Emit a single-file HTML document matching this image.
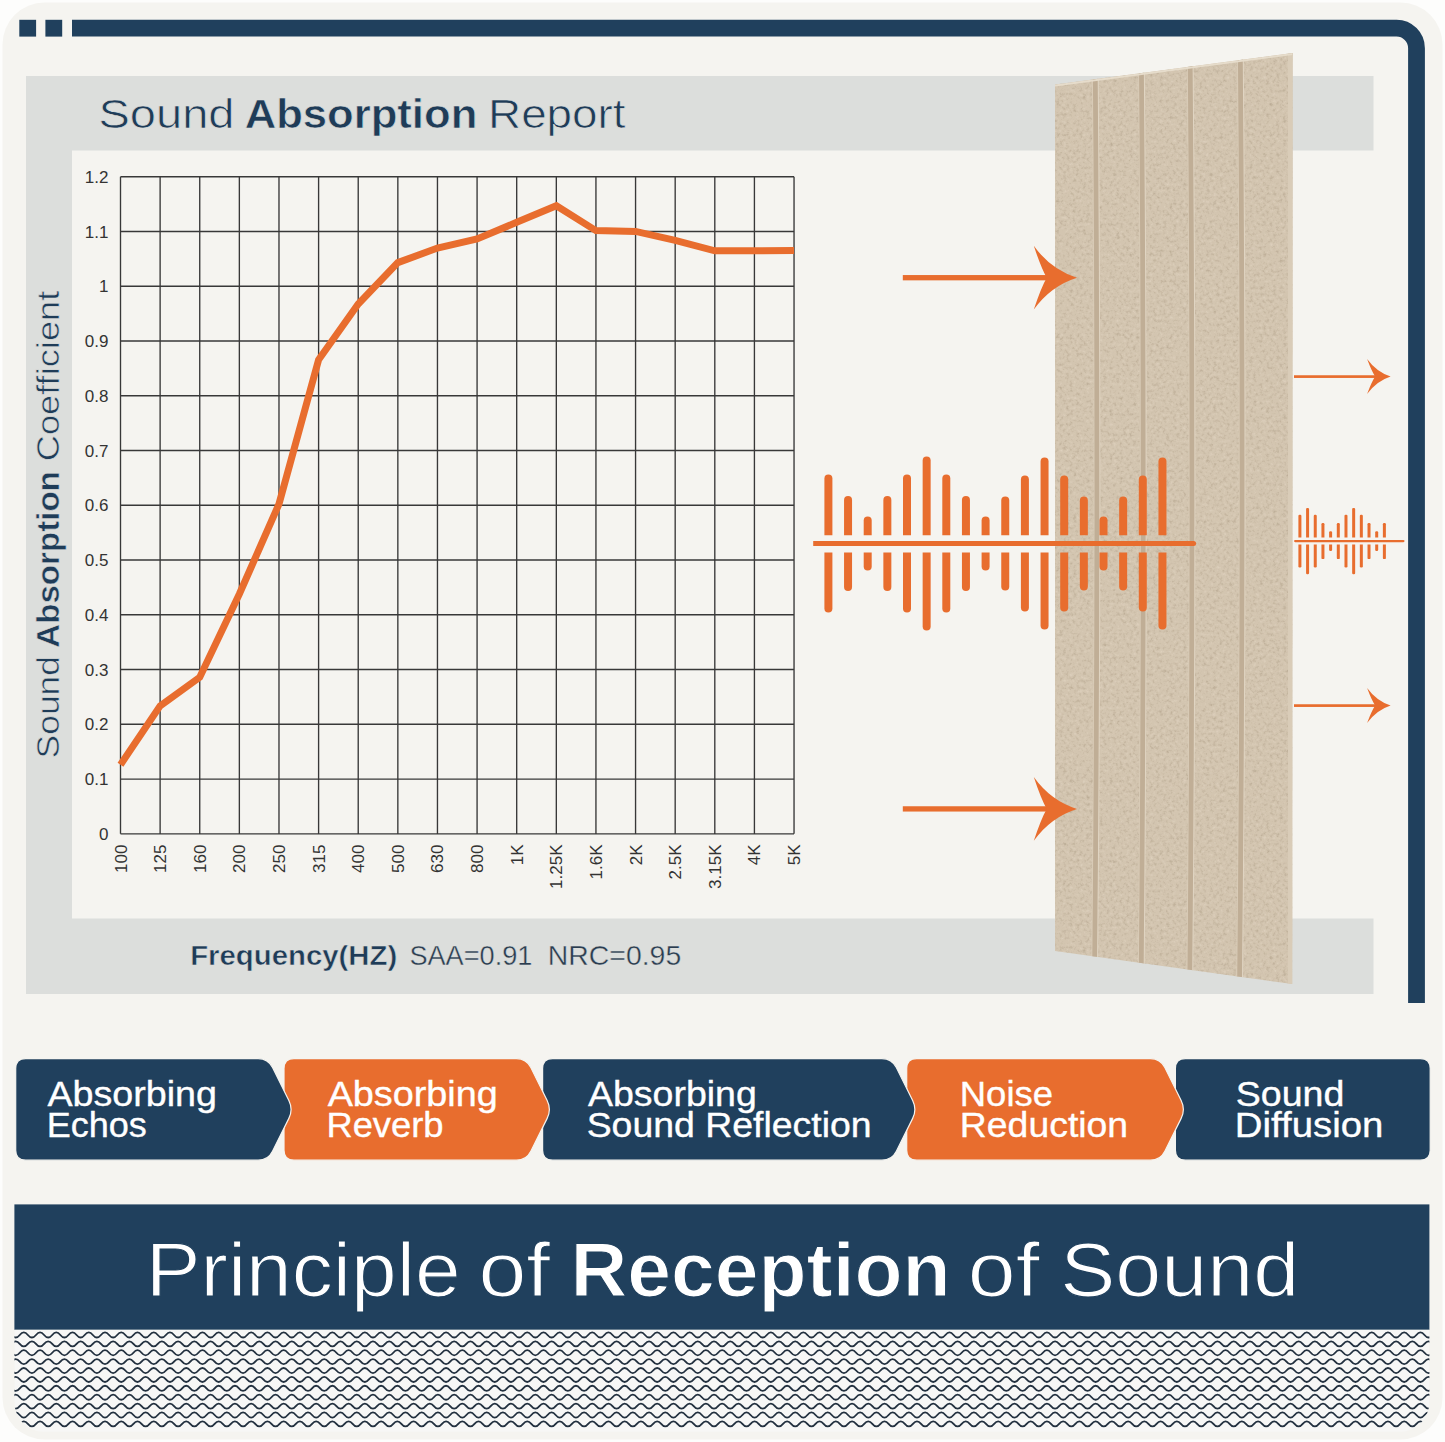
<!DOCTYPE html><html><head><meta charset="utf-8"><style>html,body{margin:0;padding:0;background:#fdfdfc;}body{width:1445px;height:1442px;position:relative;overflow:hidden;font-family:"Liberation Sans",sans-serif;}</style></head><body><svg width="1445" height="1442" viewBox="0 0 1445 1442" style="display:block;position:absolute;left:0;top:0">
<defs>
<clipPath id="gapBig"><rect x="0" y="0" width="1445" height="535.2"/><rect x="0" y="552.4" width="1445" height="200"/></clipPath>
<clipPath id="gapSmall"><rect x="0" y="0" width="1445" height="537.6"/><rect x="0" y="544.6" width="1445" height="200"/></clipPath>
<clipPath id="patClip"><path d="M14.4,1329 H1429.4 V1402 A30,30 0 0 1 1399.4,1432 H44.4 A30,30 0 0 1 14.4,1402 Z"/></clipPath>
<clipPath id="panelClip"><polygon points="1055,84.6 1292.6,53 1292.2,984 1055,951"/></clipPath>
<filter id="felt" x="0" y="0" width="100%" height="100%" color-interpolation-filters="sRGB"><feTurbulence type="fractalNoise" baseFrequency="0.3" numOctaves="3" seed="7" result="n"/><feColorMatrix in="n" type="matrix" values="0 0 0 0 0.70  0 0 0 0 0.64  0 0 0 0 0.55  2.2 0 0 0 -1.15" result="dark"/><feColorMatrix in="n" type="matrix" values="0 0 0 0 0.89  0 0 0 0 0.84  0 0 0 0 0.77  -2.2 0 0 0 0.95" result="light"/><feMerge><feMergeNode in="dark"/><feMergeNode in="light"/></feMerge></filter>
</defs>
<rect x="0" y="0" width="1445" height="1442" fill="#fdfdfc"/>
<rect x="2.5" y="2.5" width="1440" height="1437" rx="42" fill="#f5f4f0"/>
<rect x="19.3" y="19.8" width="16.8" height="16.8" fill="#20405d"/>
<rect x="45.4" y="19.8" width="16.8" height="16.8" fill="#20405d"/>
<path d="M72,28.2 H1396.5 A20,20 0 0 1 1416.5,48.2 V1003" fill="none" stroke="#20405d" stroke-width="16.8"/>
<path d="M26,76 H1373.5 V150.5 H72 V918.5 H1373.5 V994 H26 Z" fill="#dcdedc"/>
<text x="98.45" y="127.6" font-family="Liberation Sans, sans-serif" font-size="40.8" font-weight="400" fill="#1f3c58" textLength="136.1" lengthAdjust="spacingAndGlyphs" stroke="#dcdedc" stroke-width="0.7">Sound</text>
<text x="244.7" y="127.6" font-family="Liberation Sans, sans-serif" font-size="40.8" font-weight="700" fill="#1f3c58" textLength="232.6" lengthAdjust="spacingAndGlyphs" stroke="#dcdedc" stroke-width="0.6">Absorption</text>
<text x="488.04999999999995" y="127.6" font-family="Liberation Sans, sans-serif" font-size="40.8" font-weight="400" fill="#1f3c58" textLength="137.5" lengthAdjust="spacingAndGlyphs" stroke="#dcdedc" stroke-width="0.7">Report</text>
<path d="M120.50,176.76 V833.8 M160.12,176.76 V833.8 M199.74,176.76 V833.8 M239.36,176.76 V833.8 M278.98,176.76 V833.8 M318.60,176.76 V833.8 M358.22,176.76 V833.8 M397.84,176.76 V833.8 M437.46,176.76 V833.8 M477.08,176.76 V833.8 M516.70,176.76 V833.8 M556.32,176.76 V833.8 M595.94,176.76 V833.8 M635.56,176.76 V833.8 M675.18,176.76 V833.8 M714.80,176.76 V833.8 M754.42,176.76 V833.8 M794.04,176.76 V833.8 M120.5,176.76 H794.04 M120.5,231.51 H794.04 M120.5,286.27 H794.04 M120.5,341.02 H794.04 M120.5,395.77 H794.04 M120.5,450.53 H794.04 M120.5,505.28 H794.04 M120.5,560.03 H794.04 M120.5,614.79 H794.04 M120.5,669.54 H794.04 M120.5,724.29 H794.04 M120.5,779.05 H794.04 M120.5,833.80 H794.04" stroke="#383838" stroke-width="1.35" fill="none"/>
<text x="108.5" y="182.76" font-family="Liberation Sans, sans-serif" font-size="17" fill="#333" text-anchor="end">1.2</text>
<text x="108.5" y="237.51" font-family="Liberation Sans, sans-serif" font-size="17" fill="#333" text-anchor="end">1.1</text>
<text x="108.5" y="292.27" font-family="Liberation Sans, sans-serif" font-size="17" fill="#333" text-anchor="end">1</text>
<text x="108.5" y="347.02" font-family="Liberation Sans, sans-serif" font-size="17" fill="#333" text-anchor="end">0.9</text>
<text x="108.5" y="401.77" font-family="Liberation Sans, sans-serif" font-size="17" fill="#333" text-anchor="end">0.8</text>
<text x="108.5" y="456.53" font-family="Liberation Sans, sans-serif" font-size="17" fill="#333" text-anchor="end">0.7</text>
<text x="108.5" y="511.28" font-family="Liberation Sans, sans-serif" font-size="17" fill="#333" text-anchor="end">0.6</text>
<text x="108.5" y="566.03" font-family="Liberation Sans, sans-serif" font-size="17" fill="#333" text-anchor="end">0.5</text>
<text x="108.5" y="620.79" font-family="Liberation Sans, sans-serif" font-size="17" fill="#333" text-anchor="end">0.4</text>
<text x="108.5" y="675.54" font-family="Liberation Sans, sans-serif" font-size="17" fill="#333" text-anchor="end">0.3</text>
<text x="108.5" y="730.29" font-family="Liberation Sans, sans-serif" font-size="17" fill="#333" text-anchor="end">0.2</text>
<text x="108.5" y="785.05" font-family="Liberation Sans, sans-serif" font-size="17" fill="#333" text-anchor="end">0.1</text>
<text x="108.5" y="839.80" font-family="Liberation Sans, sans-serif" font-size="17" fill="#333" text-anchor="end">0</text>
<text transform="translate(126.50,844.5) rotate(-90)" font-family="Liberation Sans, sans-serif" font-size="17" fill="#333" text-anchor="end">100</text>
<text transform="translate(166.12,844.5) rotate(-90)" font-family="Liberation Sans, sans-serif" font-size="17" fill="#333" text-anchor="end">125</text>
<text transform="translate(205.74,844.5) rotate(-90)" font-family="Liberation Sans, sans-serif" font-size="17" fill="#333" text-anchor="end">160</text>
<text transform="translate(245.36,844.5) rotate(-90)" font-family="Liberation Sans, sans-serif" font-size="17" fill="#333" text-anchor="end">200</text>
<text transform="translate(284.98,844.5) rotate(-90)" font-family="Liberation Sans, sans-serif" font-size="17" fill="#333" text-anchor="end">250</text>
<text transform="translate(324.60,844.5) rotate(-90)" font-family="Liberation Sans, sans-serif" font-size="17" fill="#333" text-anchor="end">315</text>
<text transform="translate(364.22,844.5) rotate(-90)" font-family="Liberation Sans, sans-serif" font-size="17" fill="#333" text-anchor="end">400</text>
<text transform="translate(403.84,844.5) rotate(-90)" font-family="Liberation Sans, sans-serif" font-size="17" fill="#333" text-anchor="end">500</text>
<text transform="translate(443.46,844.5) rotate(-90)" font-family="Liberation Sans, sans-serif" font-size="17" fill="#333" text-anchor="end">630</text>
<text transform="translate(483.08,844.5) rotate(-90)" font-family="Liberation Sans, sans-serif" font-size="17" fill="#333" text-anchor="end">800</text>
<text transform="translate(522.70,844.5) rotate(-90)" font-family="Liberation Sans, sans-serif" font-size="17" fill="#333" text-anchor="end">1K</text>
<text transform="translate(562.32,844.5) rotate(-90)" font-family="Liberation Sans, sans-serif" font-size="17" fill="#333" text-anchor="end">1.25K</text>
<text transform="translate(601.94,844.5) rotate(-90)" font-family="Liberation Sans, sans-serif" font-size="17" fill="#333" text-anchor="end">1.6K</text>
<text transform="translate(641.56,844.5) rotate(-90)" font-family="Liberation Sans, sans-serif" font-size="17" fill="#333" text-anchor="end">2K</text>
<text transform="translate(681.18,844.5) rotate(-90)" font-family="Liberation Sans, sans-serif" font-size="17" fill="#333" text-anchor="end">2.5K</text>
<text transform="translate(720.80,844.5) rotate(-90)" font-family="Liberation Sans, sans-serif" font-size="17" fill="#333" text-anchor="end">3.15K</text>
<text transform="translate(760.42,844.5) rotate(-90)" font-family="Liberation Sans, sans-serif" font-size="17" fill="#333" text-anchor="end">4K</text>
<text transform="translate(800.04,844.5) rotate(-90)" font-family="Liberation Sans, sans-serif" font-size="17" fill="#333" text-anchor="end">5K</text>
<polyline points="120.50,764.70 160.12,705.90 199.74,677.30 239.36,594.00 278.98,504.00 318.60,359.70 358.22,304.00 397.84,262.60 437.46,248.00 477.08,238.90 516.70,222.30 556.32,205.70 595.94,230.60 635.56,231.40 675.18,240.30 714.80,250.80 754.42,250.80 794.04,250.50" fill="none" stroke="#e86d2e" stroke-width="7" stroke-linejoin="miter"/>
<text transform="translate(58.9,758.40) rotate(-90)" x="0" y="0" font-family="Liberation Sans, sans-serif" font-size="31.4" font-weight="400" fill="#1f3c58" textLength="102.39999999999999" lengthAdjust="spacingAndGlyphs" stroke="#dcdedc" stroke-width="0.6">Sound</text>
<text transform="translate(58.9,647.65) rotate(-90)" x="0" y="0" font-family="Liberation Sans, sans-serif" font-size="31.4" font-weight="700" fill="#1f3c58" textLength="176.5" lengthAdjust="spacingAndGlyphs" stroke="#dcdedc" stroke-width="0.5">Absorption</text>
<text transform="translate(58.9,461.30) rotate(-90)" x="0" y="0" font-family="Liberation Sans, sans-serif" font-size="31.4" font-weight="400" fill="#1f3c58" textLength="170.6" lengthAdjust="spacingAndGlyphs" stroke="#dcdedc" stroke-width="0.6">Coefficient</text>
<text x="190.15" y="965" font-family="Liberation Sans, sans-serif" font-size="27.6" font-weight="700" fill="#1f3c58" textLength="207.1" lengthAdjust="spacingAndGlyphs" stroke="#dcdedc" stroke-width="0.5">Frequency(HZ)</text>
<text x="409.40000000000003" y="965" font-family="Liberation Sans, sans-serif" font-size="27.6" font-weight="400" fill="#2b3d50" textLength="123.0" lengthAdjust="spacingAndGlyphs" stroke="#dcdedc" stroke-width="0.4">SAA=0.91</text>
<text x="547.8" y="965" font-family="Liberation Sans, sans-serif" font-size="27.6" font-weight="400" fill="#2b3d50" textLength="133.4" lengthAdjust="spacingAndGlyphs" stroke="#dcdedc" stroke-width="0.4">NRC=0.95</text>
<polygon points="1055,84.6 1292.6,53 1292.2,984 1055,951" fill="#d3c5b0"/>
<g clip-path="url(#panelClip)">
<rect x="1050" y="40" width="250" height="960" fill="#d3c5b0" filter="url(#felt)" opacity="0.8"/>
<path d="M1097.6,40 Q1101.8,520 1096.8999999999999,1000" stroke="#e0d5c3" stroke-width="1.6" fill="none"/>
<path d="M1092.4,40 Q1096.6000000000001,520 1091.7,1000" stroke="#d9ccb8" stroke-width="1.4" fill="none"/>
<path d="M1095.0,40 Q1099.2,520 1094.3,1000" stroke="#c0ae96" stroke-width="4.8" fill="none"/>
<path d="M1143.8,40 Q1148.0,520 1143.6,1000" stroke="#e0d5c3" stroke-width="1.6" fill="none"/>
<path d="M1138.6000000000001,40 Q1142.8000000000002,520 1138.4,1000" stroke="#d9ccb8" stroke-width="1.4" fill="none"/>
<path d="M1141.2,40 Q1145.4,520 1141.0,1000" stroke="#c0ae96" stroke-width="4.8" fill="none"/>
<path d="M1192.6,40 Q1196.8,520 1192.1999999999998,1000" stroke="#e0d5c3" stroke-width="1.6" fill="none"/>
<path d="M1187.4,40 Q1191.6000000000001,520 1187.0,1000" stroke="#d9ccb8" stroke-width="1.4" fill="none"/>
<path d="M1190.0,40 Q1194.2,520 1189.6,1000" stroke="#c0ae96" stroke-width="4.8" fill="none"/>
<path d="M1242.8,40 Q1247.0,520 1242.0,1000" stroke="#e0d5c3" stroke-width="1.6" fill="none"/>
<path d="M1237.6000000000001,40 Q1241.8000000000002,520 1236.8000000000002,1000" stroke="#d9ccb8" stroke-width="1.4" fill="none"/>
<path d="M1240.2,40 Q1244.4,520 1239.4,1000" stroke="#c0ae96" stroke-width="4.8" fill="none"/>
<rect x="1288" y="40" width="5" height="960" fill="#d9ccb8"/>
<path d="M1055,85.6 L1292.6,54" stroke="#e6dccb" stroke-width="2"/>
</g>
<rect x="902.8" y="275.05" width="144.9000000000001" height="5.3" fill="#e86d2e"/><path d="M1077,277.7 Q1050.6,269.4 1033.8,245.79999999999998 Q1041,267.7 1046.7,277.7 Q1041,287.7 1033.8,309.59999999999997 Q1050.6,286.0 1077,277.7 Z" fill="#e86d2e"/>
<rect x="902.8" y="806.25" width="144.9000000000001" height="5.3" fill="#e86d2e"/><path d="M1077,808.9 Q1050.6,800.6 1033.8,777.0 Q1041,798.9 1046.7,808.9 Q1041,818.9 1033.8,840.8 Q1050.6,817.1999999999999 1077,808.9 Z" fill="#e86d2e"/>
<rect x="1294" y="375.25" width="82.09999999999991" height="2.7" fill="#e86d2e"/><path d="M1390.6,376.6 Q1376.6,372.1 1367.1,359.1 Q1371.6,371.1 1375.1,376.6 Q1371.6,382.1 1367.1,394.1 Q1376.6,381.1 1390.6,376.6 Z" fill="#e86d2e"/>
<rect x="1294" y="704.25" width="82.09999999999991" height="2.7" fill="#e86d2e"/><path d="M1390.6,705.6 Q1376.6,701.1 1367.1,688.1 Q1371.6,700.1 1375.1,705.6 Q1371.6,711.1 1367.1,723.1 Q1376.6,710.1 1390.6,705.6 Z" fill="#e86d2e"/>
<g fill="#e86d2e" clip-path="url(#gapBig)"><rect x="824.40" y="474.60" width="8" height="138.00" rx="4"/><rect x="844.05" y="496.10" width="8" height="95.00" rx="4"/><rect x="863.70" y="516.60" width="8" height="54.00" rx="4"/><rect x="883.35" y="496.10" width="8" height="95.00" rx="4"/><rect x="903.00" y="474.60" width="8" height="138.00" rx="4"/><rect x="922.65" y="456.60" width="8" height="174.00" rx="4"/><rect x="942.30" y="474.60" width="8" height="138.00" rx="4"/><rect x="961.95" y="496.10" width="8" height="95.00" rx="4"/><rect x="981.60" y="516.60" width="8" height="54.00" rx="4"/><rect x="1001.25" y="496.60" width="8" height="94.00" rx="4"/><rect x="1020.90" y="475.60" width="8" height="136.00" rx="4"/><rect x="1040.55" y="457.60" width="8" height="172.00" rx="4"/><rect x="1060.20" y="475.60" width="8" height="136.00" rx="4"/><rect x="1079.85" y="496.60" width="8" height="94.00" rx="4"/><rect x="1099.50" y="516.60" width="8" height="54.00" rx="4"/><rect x="1119.15" y="496.60" width="8" height="94.00" rx="4"/><rect x="1138.80" y="475.60" width="8" height="136.00" rx="4"/><rect x="1158.45" y="457.60" width="8" height="172.00" rx="4"/></g>
<path d="M813.2,543.6 H1193.6" stroke="#e86d2e" stroke-width="5"/><circle cx="1193.6" cy="543.6" r="2.5" fill="#e86d2e"/>
<g fill="#e86d2e" clip-path="url(#gapSmall)"><rect x="1298.40" y="514.70" width="3.0" height="52.80" rx="1.2"/><rect x="1306.08" y="507.90" width="3.0" height="66.40" rx="1.2"/><rect x="1313.76" y="514.70" width="3.0" height="52.80" rx="1.2"/><rect x="1321.44" y="523.10" width="3.0" height="36.00" rx="1.2"/><rect x="1329.12" y="531.20" width="3.0" height="19.80" rx="1.2"/><rect x="1336.80" y="523.10" width="3.0" height="36.00" rx="1.2"/><rect x="1344.48" y="514.70" width="3.0" height="52.80" rx="1.2"/><rect x="1352.16" y="507.90" width="3.0" height="66.40" rx="1.2"/><rect x="1359.84" y="514.70" width="3.0" height="52.80" rx="1.2"/><rect x="1367.52" y="523.10" width="3.0" height="36.00" rx="1.2"/><rect x="1375.20" y="531.20" width="3.0" height="19.80" rx="1.2"/><rect x="1382.88" y="523.10" width="3.0" height="36.00" rx="1.2"/></g>
<path d="M1295.2,541.1 H1403.4" stroke="#e86d2e" stroke-width="2.3" stroke-linecap="round"/>
<path d="M1175.40,1068.60 Q1175.40,1058.60 1185.40,1058.60 L1420.20,1058.60 Q1430.20,1058.60 1430.20,1068.60 L1430.20,1150.20 Q1430.20,1160.20 1420.20,1160.20 L1185.40,1160.20 Q1175.40,1160.20 1175.40,1150.20 Z" fill="#20405d" stroke="#f5f4f0" stroke-width="1.2"/>
<path d="M906.70,1068.60 Q906.70,1058.60 916.70,1058.60 L1150.40,1058.60 Q1160.40,1058.60 1164.84,1067.56 L1181.16,1100.44 Q1185.60,1109.40 1181.16,1118.36 L1164.84,1151.24 Q1160.40,1160.20 1150.40,1160.20 L916.70,1160.20 Q906.70,1160.20 906.70,1150.20 Z" fill="#e86d2e" stroke="#f5f4f0" stroke-width="1.2"/>
<path d="M542.60,1068.60 Q542.60,1058.60 552.60,1058.60 L881.90,1058.60 Q891.90,1058.60 896.34,1067.56 L912.66,1100.44 Q917.10,1109.40 912.66,1118.36 L896.34,1151.24 Q891.90,1160.20 881.90,1160.20 L552.60,1160.20 Q542.60,1160.20 542.60,1150.20 Z" fill="#20405d" stroke="#f5f4f0" stroke-width="1.2"/>
<path d="M284.00,1068.60 Q284.00,1058.60 294.00,1058.60 L516.40,1058.60 Q526.40,1058.60 530.84,1067.56 L547.16,1100.44 Q551.60,1109.40 547.16,1118.36 L530.84,1151.24 Q526.40,1160.20 516.40,1160.20 L294.00,1160.20 Q284.00,1160.20 284.00,1150.20 Z" fill="#e86d2e" stroke="#f5f4f0" stroke-width="1.2"/>
<path d="M15.70,1068.60 Q15.70,1058.60 25.70,1058.60 L258.10,1058.60 Q268.10,1058.60 272.54,1067.56 L288.86,1100.44 Q293.30,1109.40 288.86,1118.36 L272.54,1151.24 Q268.10,1160.20 258.10,1160.20 L25.70,1160.20 Q15.70,1160.20 15.70,1150.20 Z" fill="#20405d" stroke="#f5f4f0" stroke-width="1.2"/>
<text x="47.425000000000004" y="1105.5" font-family="Liberation Sans, sans-serif" font-size="34.4" font-weight="400" fill="#ffffff" textLength="169.54999999999998" lengthAdjust="spacingAndGlyphs" stroke="#ffffff" stroke-width="0.35">Absorbing</text>
<text x="46.625" y="1137" font-family="Liberation Sans, sans-serif" font-size="34.4" font-weight="400" fill="#ffffff" textLength="100.14999999999999" lengthAdjust="spacingAndGlyphs" stroke="#ffffff" stroke-width="0.35">Echos</text>
<text x="327.625" y="1105.5" font-family="Liberation Sans, sans-serif" font-size="34.4" font-weight="400" fill="#ffffff" textLength="170.15" lengthAdjust="spacingAndGlyphs" stroke="#ffffff" stroke-width="0.35">Absorbing</text>
<text x="326.425" y="1137" font-family="Liberation Sans, sans-serif" font-size="34.4" font-weight="400" fill="#ffffff" textLength="117.14999999999999" lengthAdjust="spacingAndGlyphs" stroke="#ffffff" stroke-width="0.35">Reverb</text>
<text x="588.0250000000001" y="1105.5" font-family="Liberation Sans, sans-serif" font-size="34.4" font-weight="400" fill="#ffffff" textLength="168.75" lengthAdjust="spacingAndGlyphs" stroke="#ffffff" stroke-width="0.35">Absorbing</text>
<text x="586.625" y="1137" font-family="Liberation Sans, sans-serif" font-size="34.4" font-weight="400" fill="#ffffff" textLength="284.95000000000005" lengthAdjust="spacingAndGlyphs" stroke="#ffffff" stroke-width="0.35">Sound Reflection</text>
<text x="959.825" y="1105.5" font-family="Liberation Sans, sans-serif" font-size="34.4" font-weight="400" fill="#ffffff" textLength="93.14999999999999" lengthAdjust="spacingAndGlyphs" stroke="#ffffff" stroke-width="0.35">Noise</text>
<text x="959.825" y="1137" font-family="Liberation Sans, sans-serif" font-size="34.4" font-weight="400" fill="#ffffff" textLength="168.35" lengthAdjust="spacingAndGlyphs" stroke="#ffffff" stroke-width="0.35">Reduction</text>
<text x="1235.825" y="1105.5" font-family="Liberation Sans, sans-serif" font-size="34.4" font-weight="400" fill="#ffffff" textLength="108.55" lengthAdjust="spacingAndGlyphs" stroke="#ffffff" stroke-width="0.35">Sound</text>
<text x="1234.825" y="1137" font-family="Liberation Sans, sans-serif" font-size="34.4" font-weight="400" fill="#ffffff" textLength="148.54999999999998" lengthAdjust="spacingAndGlyphs" stroke="#ffffff" stroke-width="0.35">Diffusion</text>
<rect x="14.4" y="1204.4" width="1415" height="125.4" fill="#20405d"/>
<text x="145.8" y="1295.7" font-family="Liberation Sans, sans-serif" font-size="76.5" font-weight="400" fill="#ffffff" textLength="314.8" lengthAdjust="spacingAndGlyphs" stroke="#20405d" stroke-width="1.2">Principle</text>
<text x="478.4" y="1295.7" font-family="Liberation Sans, sans-serif" font-size="76.5" font-weight="400" fill="#ffffff" textLength="71.8" lengthAdjust="spacingAndGlyphs" stroke="#20405d" stroke-width="1.2">of</text>
<text x="967.8" y="1295.7" font-family="Liberation Sans, sans-serif" font-size="76.5" font-weight="400" fill="#ffffff" textLength="71.8" lengthAdjust="spacingAndGlyphs" stroke="#20405d" stroke-width="1.2">of</text>
<text x="1060.2" y="1295.7" font-family="Liberation Sans, sans-serif" font-size="76.5" font-weight="400" fill="#ffffff" textLength="239.0" lengthAdjust="spacingAndGlyphs" stroke="#20405d" stroke-width="1.2">Sound</text>
<text x="570.4" y="1295.7" font-family="Liberation Sans, sans-serif" font-size="76.5" font-weight="700" fill="#ffffff" textLength="380.2" lengthAdjust="spacingAndGlyphs" stroke="#20405d" stroke-width="1.2">Reception</text>
<rect x="14.4" y="1329.8" width="1415" height="102" fill="#f7f7f6" clip-path="url(#patClip)"/>
<path d="M7.56,1332.40 c4.060,0 4.060,5.1 8.120,5.1s4.060,-5.1 8.120,-5.1s4.060,5.1 8.120,5.1s4.060,-5.1 8.120,-5.1s4.060,5.1 8.120,5.1s4.060,-5.1 8.120,-5.1s4.060,5.1 8.120,5.1s4.060,-5.1 8.120,-5.1s4.060,5.1 8.120,5.1s4.060,-5.1 8.120,-5.1s4.060,5.1 8.120,5.1s4.060,-5.1 8.120,-5.1s4.060,5.1 8.120,5.1s4.060,-5.1 8.120,-5.1s4.060,5.1 8.120,5.1s4.060,-5.1 8.120,-5.1s4.060,5.1 8.120,5.1s4.060,-5.1 8.120,-5.1s4.060,5.1 8.120,5.1s4.060,-5.1 8.120,-5.1s4.060,5.1 8.120,5.1s4.060,-5.1 8.120,-5.1s4.060,5.1 8.120,5.1s4.060,-5.1 8.120,-5.1s4.060,5.1 8.120,5.1s4.060,-5.1 8.120,-5.1s4.060,5.1 8.120,5.1s4.060,-5.1 8.120,-5.1s4.060,5.1 8.120,5.1s4.060,-5.1 8.120,-5.1s4.060,5.1 8.120,5.1s4.060,-5.1 8.120,-5.1s4.060,5.1 8.120,5.1s4.060,-5.1 8.120,-5.1s4.060,5.1 8.120,5.1s4.060,-5.1 8.120,-5.1s4.060,5.1 8.120,5.1s4.060,-5.1 8.120,-5.1s4.060,5.1 8.120,5.1s4.060,-5.1 8.120,-5.1s4.060,5.1 8.120,5.1s4.060,-5.1 8.120,-5.1s4.060,5.1 8.120,5.1s4.060,-5.1 8.120,-5.1s4.060,5.1 8.120,5.1s4.060,-5.1 8.120,-5.1s4.060,5.1 8.120,5.1s4.060,-5.1 8.120,-5.1s4.060,5.1 8.120,5.1s4.060,-5.1 8.120,-5.1s4.060,5.1 8.120,5.1s4.060,-5.1 8.120,-5.1s4.060,5.1 8.120,5.1s4.060,-5.1 8.120,-5.1s4.060,5.1 8.120,5.1s4.060,-5.1 8.120,-5.1s4.060,5.1 8.120,5.1s4.060,-5.1 8.120,-5.1s4.060,5.1 8.120,5.1s4.060,-5.1 8.120,-5.1s4.060,5.1 8.120,5.1s4.060,-5.1 8.120,-5.1s4.060,5.1 8.120,5.1s4.060,-5.1 8.120,-5.1s4.060,5.1 8.120,5.1s4.060,-5.1 8.120,-5.1s4.060,5.1 8.120,5.1s4.060,-5.1 8.120,-5.1s4.060,5.1 8.120,5.1s4.060,-5.1 8.120,-5.1s4.060,5.1 8.120,5.1s4.060,-5.1 8.120,-5.1s4.060,5.1 8.120,5.1s4.060,-5.1 8.120,-5.1s4.060,5.1 8.120,5.1s4.060,-5.1 8.120,-5.1s4.060,5.1 8.120,5.1s4.060,-5.1 8.120,-5.1s4.060,5.1 8.120,5.1s4.060,-5.1 8.120,-5.1s4.060,5.1 8.120,5.1s4.060,-5.1 8.120,-5.1s4.060,5.1 8.120,5.1s4.060,-5.1 8.120,-5.1s4.060,5.1 8.120,5.1s4.060,-5.1 8.120,-5.1s4.060,5.1 8.120,5.1s4.060,-5.1 8.120,-5.1s4.060,5.1 8.120,5.1s4.060,-5.1 8.120,-5.1s4.060,5.1 8.120,5.1s4.060,-5.1 8.120,-5.1s4.060,5.1 8.120,5.1s4.060,-5.1 8.120,-5.1s4.060,5.1 8.120,5.1s4.060,-5.1 8.120,-5.1s4.060,5.1 8.120,5.1s4.060,-5.1 8.120,-5.1s4.060,5.1 8.120,5.1s4.060,-5.1 8.120,-5.1s4.060,5.1 8.120,5.1s4.060,-5.1 8.120,-5.1s4.060,5.1 8.120,5.1s4.060,-5.1 8.120,-5.1s4.060,5.1 8.120,5.1s4.060,-5.1 8.120,-5.1s4.060,5.1 8.120,5.1s4.060,-5.1 8.120,-5.1s4.060,5.1 8.120,5.1s4.060,-5.1 8.120,-5.1s4.060,5.1 8.120,5.1s4.060,-5.1 8.120,-5.1s4.060,5.1 8.120,5.1s4.060,-5.1 8.120,-5.1s4.060,5.1 8.120,5.1s4.060,-5.1 8.120,-5.1s4.060,5.1 8.120,5.1s4.060,-5.1 8.120,-5.1s4.060,5.1 8.120,5.1s4.060,-5.1 8.120,-5.1s4.060,5.1 8.120,5.1s4.060,-5.1 8.120,-5.1s4.060,5.1 8.120,5.1s4.060,-5.1 8.120,-5.1s4.060,5.1 8.120,5.1s4.060,-5.1 8.120,-5.1s4.060,5.1 8.120,5.1s4.060,-5.1 8.120,-5.1s4.060,5.1 8.120,5.1s4.060,-5.1 8.120,-5.1s4.060,5.1 8.120,5.1s4.060,-5.1 8.120,-5.1s4.060,5.1 8.120,5.1s4.060,-5.1 8.120,-5.1s4.060,5.1 8.120,5.1s4.060,-5.1 8.120,-5.1s4.060,5.1 8.120,5.1s4.060,-5.1 8.120,-5.1s4.060,5.1 8.120,5.1s4.060,-5.1 8.120,-5.1s4.060,5.1 8.120,5.1s4.060,-5.1 8.120,-5.1s4.060,5.1 8.120,5.1s4.060,-5.1 8.120,-5.1s4.060,5.1 8.120,5.1s4.060,-5.1 8.120,-5.1s4.060,5.1 8.120,5.1s4.060,-5.1 8.120,-5.1s4.060,5.1 8.120,5.1s4.060,-5.1 8.120,-5.1s4.060,5.1 8.120,5.1s4.060,-5.1 8.120,-5.1s4.060,5.1 8.120,5.1s4.060,-5.1 8.120,-5.1s4.060,5.1 8.120,5.1s4.060,-5.1 8.120,-5.1s4.060,5.1 8.120,5.1s4.060,-5.1 8.120,-5.1s4.060,5.1 8.120,5.1s4.060,-5.1 8.120,-5.1s4.060,5.1 8.120,5.1s4.060,-5.1 8.120,-5.1s4.060,5.1 8.120,5.1s4.060,-5.1 8.120,-5.1s4.060,5.1 8.120,5.1s4.060,-5.1 8.120,-5.1s4.060,5.1 8.120,5.1s4.060,-5.1 8.120,-5.1s4.060,5.1 8.120,5.1s4.060,-5.1 8.120,-5.1s4.060,5.1 8.120,5.1s4.060,-5.1 8.120,-5.1s4.060,5.1 8.120,5.1s4.060,-5.1 8.120,-5.1s4.060,5.1 8.120,5.1s4.060,-5.1 8.120,-5.1s4.060,5.1 8.120,5.1s4.060,-5.1 8.120,-5.1 M-0.56,1341.30 c4.060,0 4.060,5.1 8.120,5.1s4.060,-5.1 8.120,-5.1s4.060,5.1 8.120,5.1s4.060,-5.1 8.120,-5.1s4.060,5.1 8.120,5.1s4.060,-5.1 8.120,-5.1s4.060,5.1 8.120,5.1s4.060,-5.1 8.120,-5.1s4.060,5.1 8.120,5.1s4.060,-5.1 8.120,-5.1s4.060,5.1 8.120,5.1s4.060,-5.1 8.120,-5.1s4.060,5.1 8.120,5.1s4.060,-5.1 8.120,-5.1s4.060,5.1 8.120,5.1s4.060,-5.1 8.120,-5.1s4.060,5.1 8.120,5.1s4.060,-5.1 8.120,-5.1s4.060,5.1 8.120,5.1s4.060,-5.1 8.120,-5.1s4.060,5.1 8.120,5.1s4.060,-5.1 8.120,-5.1s4.060,5.1 8.120,5.1s4.060,-5.1 8.120,-5.1s4.060,5.1 8.120,5.1s4.060,-5.1 8.120,-5.1s4.060,5.1 8.120,5.1s4.060,-5.1 8.120,-5.1s4.060,5.1 8.120,5.1s4.060,-5.1 8.120,-5.1s4.060,5.1 8.120,5.1s4.060,-5.1 8.120,-5.1s4.060,5.1 8.120,5.1s4.060,-5.1 8.120,-5.1s4.060,5.1 8.120,5.1s4.060,-5.1 8.120,-5.1s4.060,5.1 8.120,5.1s4.060,-5.1 8.120,-5.1s4.060,5.1 8.120,5.1s4.060,-5.1 8.120,-5.1s4.060,5.1 8.120,5.1s4.060,-5.1 8.120,-5.1s4.060,5.1 8.120,5.1s4.060,-5.1 8.120,-5.1s4.060,5.1 8.120,5.1s4.060,-5.1 8.120,-5.1s4.060,5.1 8.120,5.1s4.060,-5.1 8.120,-5.1s4.060,5.1 8.120,5.1s4.060,-5.1 8.120,-5.1s4.060,5.1 8.120,5.1s4.060,-5.1 8.120,-5.1s4.060,5.1 8.120,5.1s4.060,-5.1 8.120,-5.1s4.060,5.1 8.120,5.1s4.060,-5.1 8.120,-5.1s4.060,5.1 8.120,5.1s4.060,-5.1 8.120,-5.1s4.060,5.1 8.120,5.1s4.060,-5.1 8.120,-5.1s4.060,5.1 8.120,5.1s4.060,-5.1 8.120,-5.1s4.060,5.1 8.120,5.1s4.060,-5.1 8.120,-5.1s4.060,5.1 8.120,5.1s4.060,-5.1 8.120,-5.1s4.060,5.1 8.120,5.1s4.060,-5.1 8.120,-5.1s4.060,5.1 8.120,5.1s4.060,-5.1 8.120,-5.1s4.060,5.1 8.120,5.1s4.060,-5.1 8.120,-5.1s4.060,5.1 8.120,5.1s4.060,-5.1 8.120,-5.1s4.060,5.1 8.120,5.1s4.060,-5.1 8.120,-5.1s4.060,5.1 8.120,5.1s4.060,-5.1 8.120,-5.1s4.060,5.1 8.120,5.1s4.060,-5.1 8.120,-5.1s4.060,5.1 8.120,5.1s4.060,-5.1 8.120,-5.1s4.060,5.1 8.120,5.1s4.060,-5.1 8.120,-5.1s4.060,5.1 8.120,5.1s4.060,-5.1 8.120,-5.1s4.060,5.1 8.120,5.1s4.060,-5.1 8.120,-5.1s4.060,5.1 8.120,5.1s4.060,-5.1 8.120,-5.1s4.060,5.1 8.120,5.1s4.060,-5.1 8.120,-5.1s4.060,5.1 8.120,5.1s4.060,-5.1 8.120,-5.1s4.060,5.1 8.120,5.1s4.060,-5.1 8.120,-5.1s4.060,5.1 8.120,5.1s4.060,-5.1 8.120,-5.1s4.060,5.1 8.120,5.1s4.060,-5.1 8.120,-5.1s4.060,5.1 8.120,5.1s4.060,-5.1 8.120,-5.1s4.060,5.1 8.120,5.1s4.060,-5.1 8.120,-5.1s4.060,5.1 8.120,5.1s4.060,-5.1 8.120,-5.1s4.060,5.1 8.120,5.1s4.060,-5.1 8.120,-5.1s4.060,5.1 8.120,5.1s4.060,-5.1 8.120,-5.1s4.060,5.1 8.120,5.1s4.060,-5.1 8.120,-5.1s4.060,5.1 8.120,5.1s4.060,-5.1 8.120,-5.1s4.060,5.1 8.120,5.1s4.060,-5.1 8.120,-5.1s4.060,5.1 8.120,5.1s4.060,-5.1 8.120,-5.1s4.060,5.1 8.120,5.1s4.060,-5.1 8.120,-5.1s4.060,5.1 8.120,5.1s4.060,-5.1 8.120,-5.1s4.060,5.1 8.120,5.1s4.060,-5.1 8.120,-5.1s4.060,5.1 8.120,5.1s4.060,-5.1 8.120,-5.1s4.060,5.1 8.120,5.1s4.060,-5.1 8.120,-5.1s4.060,5.1 8.120,5.1s4.060,-5.1 8.120,-5.1s4.060,5.1 8.120,5.1s4.060,-5.1 8.120,-5.1s4.060,5.1 8.120,5.1s4.060,-5.1 8.120,-5.1s4.060,5.1 8.120,5.1s4.060,-5.1 8.120,-5.1s4.060,5.1 8.120,5.1s4.060,-5.1 8.120,-5.1s4.060,5.1 8.120,5.1s4.060,-5.1 8.120,-5.1s4.060,5.1 8.120,5.1s4.060,-5.1 8.120,-5.1s4.060,5.1 8.120,5.1s4.060,-5.1 8.120,-5.1s4.060,5.1 8.120,5.1s4.060,-5.1 8.120,-5.1s4.060,5.1 8.120,5.1s4.060,-5.1 8.120,-5.1s4.060,5.1 8.120,5.1s4.060,-5.1 8.120,-5.1s4.060,5.1 8.120,5.1s4.060,-5.1 8.120,-5.1s4.060,5.1 8.120,5.1s4.060,-5.1 8.120,-5.1s4.060,5.1 8.120,5.1s4.060,-5.1 8.120,-5.1s4.060,5.1 8.120,5.1s4.060,-5.1 8.120,-5.1s4.060,5.1 8.120,5.1s4.060,-5.1 8.120,-5.1s4.060,5.1 8.120,5.1s4.060,-5.1 8.120,-5.1s4.060,5.1 8.120,5.1s4.060,-5.1 8.120,-5.1s4.060,5.1 8.120,5.1s4.060,-5.1 8.120,-5.1s4.060,5.1 8.120,5.1s4.060,-5.1 8.120,-5.1s4.060,5.1 8.120,5.1s4.060,-5.1 8.120,-5.1s4.060,5.1 8.120,5.1s4.060,-5.1 8.120,-5.1s4.060,5.1 8.120,5.1s4.060,-5.1 8.120,-5.1s4.060,5.1 8.120,5.1s4.060,-5.1 8.120,-5.1s4.060,5.1 8.120,5.1s4.060,-5.1 8.120,-5.1s4.060,5.1 8.120,5.1 M7.56,1350.19 c4.060,0 4.060,5.1 8.120,5.1s4.060,-5.1 8.120,-5.1s4.060,5.1 8.120,5.1s4.060,-5.1 8.120,-5.1s4.060,5.1 8.120,5.1s4.060,-5.1 8.120,-5.1s4.060,5.1 8.120,5.1s4.060,-5.1 8.120,-5.1s4.060,5.1 8.120,5.1s4.060,-5.1 8.120,-5.1s4.060,5.1 8.120,5.1s4.060,-5.1 8.120,-5.1s4.060,5.1 8.120,5.1s4.060,-5.1 8.120,-5.1s4.060,5.1 8.120,5.1s4.060,-5.1 8.120,-5.1s4.060,5.1 8.120,5.1s4.060,-5.1 8.120,-5.1s4.060,5.1 8.120,5.1s4.060,-5.1 8.120,-5.1s4.060,5.1 8.120,5.1s4.060,-5.1 8.120,-5.1s4.060,5.1 8.120,5.1s4.060,-5.1 8.120,-5.1s4.060,5.1 8.120,5.1s4.060,-5.1 8.120,-5.1s4.060,5.1 8.120,5.1s4.060,-5.1 8.120,-5.1s4.060,5.1 8.120,5.1s4.060,-5.1 8.120,-5.1s4.060,5.1 8.120,5.1s4.060,-5.1 8.120,-5.1s4.060,5.1 8.120,5.1s4.060,-5.1 8.120,-5.1s4.060,5.1 8.120,5.1s4.060,-5.1 8.120,-5.1s4.060,5.1 8.120,5.1s4.060,-5.1 8.120,-5.1s4.060,5.1 8.120,5.1s4.060,-5.1 8.120,-5.1s4.060,5.1 8.120,5.1s4.060,-5.1 8.120,-5.1s4.060,5.1 8.120,5.1s4.060,-5.1 8.120,-5.1s4.060,5.1 8.120,5.1s4.060,-5.1 8.120,-5.1s4.060,5.1 8.120,5.1s4.060,-5.1 8.120,-5.1s4.060,5.1 8.120,5.1s4.060,-5.1 8.120,-5.1s4.060,5.1 8.120,5.1s4.060,-5.1 8.120,-5.1s4.060,5.1 8.120,5.1s4.060,-5.1 8.120,-5.1s4.060,5.1 8.120,5.1s4.060,-5.1 8.120,-5.1s4.060,5.1 8.120,5.1s4.060,-5.1 8.120,-5.1s4.060,5.1 8.120,5.1s4.060,-5.1 8.120,-5.1s4.060,5.1 8.120,5.1s4.060,-5.1 8.120,-5.1s4.060,5.1 8.120,5.1s4.060,-5.1 8.120,-5.1s4.060,5.1 8.120,5.1s4.060,-5.1 8.120,-5.1s4.060,5.1 8.120,5.1s4.060,-5.1 8.120,-5.1s4.060,5.1 8.120,5.1s4.060,-5.1 8.120,-5.1s4.060,5.1 8.120,5.1s4.060,-5.1 8.120,-5.1s4.060,5.1 8.120,5.1s4.060,-5.1 8.120,-5.1s4.060,5.1 8.120,5.1s4.060,-5.1 8.120,-5.1s4.060,5.1 8.120,5.1s4.060,-5.1 8.120,-5.1s4.060,5.1 8.120,5.1s4.060,-5.1 8.120,-5.1s4.060,5.1 8.120,5.1s4.060,-5.1 8.120,-5.1s4.060,5.1 8.120,5.1s4.060,-5.1 8.120,-5.1s4.060,5.1 8.120,5.1s4.060,-5.1 8.120,-5.1s4.060,5.1 8.120,5.1s4.060,-5.1 8.120,-5.1s4.060,5.1 8.120,5.1s4.060,-5.1 8.120,-5.1s4.060,5.1 8.120,5.1s4.060,-5.1 8.120,-5.1s4.060,5.1 8.120,5.1s4.060,-5.1 8.120,-5.1s4.060,5.1 8.120,5.1s4.060,-5.1 8.120,-5.1s4.060,5.1 8.120,5.1s4.060,-5.1 8.120,-5.1s4.060,5.1 8.120,5.1s4.060,-5.1 8.120,-5.1s4.060,5.1 8.120,5.1s4.060,-5.1 8.120,-5.1s4.060,5.1 8.120,5.1s4.060,-5.1 8.120,-5.1s4.060,5.1 8.120,5.1s4.060,-5.1 8.120,-5.1s4.060,5.1 8.120,5.1s4.060,-5.1 8.120,-5.1s4.060,5.1 8.120,5.1s4.060,-5.1 8.120,-5.1s4.060,5.1 8.120,5.1s4.060,-5.1 8.120,-5.1s4.060,5.1 8.120,5.1s4.060,-5.1 8.120,-5.1s4.060,5.1 8.120,5.1s4.060,-5.1 8.120,-5.1s4.060,5.1 8.120,5.1s4.060,-5.1 8.120,-5.1s4.060,5.1 8.120,5.1s4.060,-5.1 8.120,-5.1s4.060,5.1 8.120,5.1s4.060,-5.1 8.120,-5.1s4.060,5.1 8.120,5.1s4.060,-5.1 8.120,-5.1s4.060,5.1 8.120,5.1s4.060,-5.1 8.120,-5.1s4.060,5.1 8.120,5.1s4.060,-5.1 8.120,-5.1s4.060,5.1 8.120,5.1s4.060,-5.1 8.120,-5.1s4.060,5.1 8.120,5.1s4.060,-5.1 8.120,-5.1s4.060,5.1 8.120,5.1s4.060,-5.1 8.120,-5.1s4.060,5.1 8.120,5.1s4.060,-5.1 8.120,-5.1s4.060,5.1 8.120,5.1s4.060,-5.1 8.120,-5.1s4.060,5.1 8.120,5.1s4.060,-5.1 8.120,-5.1s4.060,5.1 8.120,5.1s4.060,-5.1 8.120,-5.1s4.060,5.1 8.120,5.1s4.060,-5.1 8.120,-5.1s4.060,5.1 8.120,5.1s4.060,-5.1 8.120,-5.1s4.060,5.1 8.120,5.1s4.060,-5.1 8.120,-5.1s4.060,5.1 8.120,5.1s4.060,-5.1 8.120,-5.1s4.060,5.1 8.120,5.1s4.060,-5.1 8.120,-5.1s4.060,5.1 8.120,5.1s4.060,-5.1 8.120,-5.1s4.060,5.1 8.120,5.1s4.060,-5.1 8.120,-5.1s4.060,5.1 8.120,5.1s4.060,-5.1 8.120,-5.1s4.060,5.1 8.120,5.1s4.060,-5.1 8.120,-5.1s4.060,5.1 8.120,5.1s4.060,-5.1 8.120,-5.1s4.060,5.1 8.120,5.1s4.060,-5.1 8.120,-5.1s4.060,5.1 8.120,5.1s4.060,-5.1 8.120,-5.1s4.060,5.1 8.120,5.1s4.060,-5.1 8.120,-5.1s4.060,5.1 8.120,5.1s4.060,-5.1 8.120,-5.1s4.060,5.1 8.120,5.1s4.060,-5.1 8.120,-5.1s4.060,5.1 8.120,5.1s4.060,-5.1 8.120,-5.1s4.060,5.1 8.120,5.1s4.060,-5.1 8.120,-5.1s4.060,5.1 8.120,5.1s4.060,-5.1 8.120,-5.1 M-0.56,1359.09 c4.060,0 4.060,5.1 8.120,5.1s4.060,-5.1 8.120,-5.1s4.060,5.1 8.120,5.1s4.060,-5.1 8.120,-5.1s4.060,5.1 8.120,5.1s4.060,-5.1 8.120,-5.1s4.060,5.1 8.120,5.1s4.060,-5.1 8.120,-5.1s4.060,5.1 8.120,5.1s4.060,-5.1 8.120,-5.1s4.060,5.1 8.120,5.1s4.060,-5.1 8.120,-5.1s4.060,5.1 8.120,5.1s4.060,-5.1 8.120,-5.1s4.060,5.1 8.120,5.1s4.060,-5.1 8.120,-5.1s4.060,5.1 8.120,5.1s4.060,-5.1 8.120,-5.1s4.060,5.1 8.120,5.1s4.060,-5.1 8.120,-5.1s4.060,5.1 8.120,5.1s4.060,-5.1 8.120,-5.1s4.060,5.1 8.120,5.1s4.060,-5.1 8.120,-5.1s4.060,5.1 8.120,5.1s4.060,-5.1 8.120,-5.1s4.060,5.1 8.120,5.1s4.060,-5.1 8.120,-5.1s4.060,5.1 8.120,5.1s4.060,-5.1 8.120,-5.1s4.060,5.1 8.120,5.1s4.060,-5.1 8.120,-5.1s4.060,5.1 8.120,5.1s4.060,-5.1 8.120,-5.1s4.060,5.1 8.120,5.1s4.060,-5.1 8.120,-5.1s4.060,5.1 8.120,5.1s4.060,-5.1 8.120,-5.1s4.060,5.1 8.120,5.1s4.060,-5.1 8.120,-5.1s4.060,5.1 8.120,5.1s4.060,-5.1 8.120,-5.1s4.060,5.1 8.120,5.1s4.060,-5.1 8.120,-5.1s4.060,5.1 8.120,5.1s4.060,-5.1 8.120,-5.1s4.060,5.1 8.120,5.1s4.060,-5.1 8.120,-5.1s4.060,5.1 8.120,5.1s4.060,-5.1 8.120,-5.1s4.060,5.1 8.120,5.1s4.060,-5.1 8.120,-5.1s4.060,5.1 8.120,5.1s4.060,-5.1 8.120,-5.1s4.060,5.1 8.120,5.1s4.060,-5.1 8.120,-5.1s4.060,5.1 8.120,5.1s4.060,-5.1 8.120,-5.1s4.060,5.1 8.120,5.1s4.060,-5.1 8.120,-5.1s4.060,5.1 8.120,5.1s4.060,-5.1 8.120,-5.1s4.060,5.1 8.120,5.1s4.060,-5.1 8.120,-5.1s4.060,5.1 8.120,5.1s4.060,-5.1 8.120,-5.1s4.060,5.1 8.120,5.1s4.060,-5.1 8.120,-5.1s4.060,5.1 8.120,5.1s4.060,-5.1 8.120,-5.1s4.060,5.1 8.120,5.1s4.060,-5.1 8.120,-5.1s4.060,5.1 8.120,5.1s4.060,-5.1 8.120,-5.1s4.060,5.1 8.120,5.1s4.060,-5.1 8.120,-5.1s4.060,5.1 8.120,5.1s4.060,-5.1 8.120,-5.1s4.060,5.1 8.120,5.1s4.060,-5.1 8.120,-5.1s4.060,5.1 8.120,5.1s4.060,-5.1 8.120,-5.1s4.060,5.1 8.120,5.1s4.060,-5.1 8.120,-5.1s4.060,5.1 8.120,5.1s4.060,-5.1 8.120,-5.1s4.060,5.1 8.120,5.1s4.060,-5.1 8.120,-5.1s4.060,5.1 8.120,5.1s4.060,-5.1 8.120,-5.1s4.060,5.1 8.120,5.1s4.060,-5.1 8.120,-5.1s4.060,5.1 8.120,5.1s4.060,-5.1 8.120,-5.1s4.060,5.1 8.120,5.1s4.060,-5.1 8.120,-5.1s4.060,5.1 8.120,5.1s4.060,-5.1 8.120,-5.1s4.060,5.1 8.120,5.1s4.060,-5.1 8.120,-5.1s4.060,5.1 8.120,5.1s4.060,-5.1 8.120,-5.1s4.060,5.1 8.120,5.1s4.060,-5.1 8.120,-5.1s4.060,5.1 8.120,5.1s4.060,-5.1 8.120,-5.1s4.060,5.1 8.120,5.1s4.060,-5.1 8.120,-5.1s4.060,5.1 8.120,5.1s4.060,-5.1 8.120,-5.1s4.060,5.1 8.120,5.1s4.060,-5.1 8.120,-5.1s4.060,5.1 8.120,5.1s4.060,-5.1 8.120,-5.1s4.060,5.1 8.120,5.1s4.060,-5.1 8.120,-5.1s4.060,5.1 8.120,5.1s4.060,-5.1 8.120,-5.1s4.060,5.1 8.120,5.1s4.060,-5.1 8.120,-5.1s4.060,5.1 8.120,5.1s4.060,-5.1 8.120,-5.1s4.060,5.1 8.120,5.1s4.060,-5.1 8.120,-5.1s4.060,5.1 8.120,5.1s4.060,-5.1 8.120,-5.1s4.060,5.1 8.120,5.1s4.060,-5.1 8.120,-5.1s4.060,5.1 8.120,5.1s4.060,-5.1 8.120,-5.1s4.060,5.1 8.120,5.1s4.060,-5.1 8.120,-5.1s4.060,5.1 8.120,5.1s4.060,-5.1 8.120,-5.1s4.060,5.1 8.120,5.1s4.060,-5.1 8.120,-5.1s4.060,5.1 8.120,5.1s4.060,-5.1 8.120,-5.1s4.060,5.1 8.120,5.1s4.060,-5.1 8.120,-5.1s4.060,5.1 8.120,5.1s4.060,-5.1 8.120,-5.1s4.060,5.1 8.120,5.1s4.060,-5.1 8.120,-5.1s4.060,5.1 8.120,5.1s4.060,-5.1 8.120,-5.1s4.060,5.1 8.120,5.1s4.060,-5.1 8.120,-5.1s4.060,5.1 8.120,5.1s4.060,-5.1 8.120,-5.1s4.060,5.1 8.120,5.1s4.060,-5.1 8.120,-5.1s4.060,5.1 8.120,5.1s4.060,-5.1 8.120,-5.1s4.060,5.1 8.120,5.1s4.060,-5.1 8.120,-5.1s4.060,5.1 8.120,5.1s4.060,-5.1 8.120,-5.1s4.060,5.1 8.120,5.1s4.060,-5.1 8.120,-5.1s4.060,5.1 8.120,5.1s4.060,-5.1 8.120,-5.1s4.060,5.1 8.120,5.1s4.060,-5.1 8.120,-5.1s4.060,5.1 8.120,5.1s4.060,-5.1 8.120,-5.1s4.060,5.1 8.120,5.1s4.060,-5.1 8.120,-5.1s4.060,5.1 8.120,5.1s4.060,-5.1 8.120,-5.1s4.060,5.1 8.120,5.1s4.060,-5.1 8.120,-5.1s4.060,5.1 8.120,5.1s4.060,-5.1 8.120,-5.1s4.060,5.1 8.120,5.1s4.060,-5.1 8.120,-5.1s4.060,5.1 8.120,5.1s4.060,-5.1 8.120,-5.1s4.060,5.1 8.120,5.1 M7.56,1367.98 c4.060,0 4.060,5.1 8.120,5.1s4.060,-5.1 8.120,-5.1s4.060,5.1 8.120,5.1s4.060,-5.1 8.120,-5.1s4.060,5.1 8.120,5.1s4.060,-5.1 8.120,-5.1s4.060,5.1 8.120,5.1s4.060,-5.1 8.120,-5.1s4.060,5.1 8.120,5.1s4.060,-5.1 8.120,-5.1s4.060,5.1 8.120,5.1s4.060,-5.1 8.120,-5.1s4.060,5.1 8.120,5.1s4.060,-5.1 8.120,-5.1s4.060,5.1 8.120,5.1s4.060,-5.1 8.120,-5.1s4.060,5.1 8.120,5.1s4.060,-5.1 8.120,-5.1s4.060,5.1 8.120,5.1s4.060,-5.1 8.120,-5.1s4.060,5.1 8.120,5.1s4.060,-5.1 8.120,-5.1s4.060,5.1 8.120,5.1s4.060,-5.1 8.120,-5.1s4.060,5.1 8.120,5.1s4.060,-5.1 8.120,-5.1s4.060,5.1 8.120,5.1s4.060,-5.1 8.120,-5.1s4.060,5.1 8.120,5.1s4.060,-5.1 8.120,-5.1s4.060,5.1 8.120,5.1s4.060,-5.1 8.120,-5.1s4.060,5.1 8.120,5.1s4.060,-5.1 8.120,-5.1s4.060,5.1 8.120,5.1s4.060,-5.1 8.120,-5.1s4.060,5.1 8.120,5.1s4.060,-5.1 8.120,-5.1s4.060,5.1 8.120,5.1s4.060,-5.1 8.120,-5.1s4.060,5.1 8.120,5.1s4.060,-5.1 8.120,-5.1s4.060,5.1 8.120,5.1s4.060,-5.1 8.120,-5.1s4.060,5.1 8.120,5.1s4.060,-5.1 8.120,-5.1s4.060,5.1 8.120,5.1s4.060,-5.1 8.120,-5.1s4.060,5.1 8.120,5.1s4.060,-5.1 8.120,-5.1s4.060,5.1 8.120,5.1s4.060,-5.1 8.120,-5.1s4.060,5.1 8.120,5.1s4.060,-5.1 8.120,-5.1s4.060,5.1 8.120,5.1s4.060,-5.1 8.120,-5.1s4.060,5.1 8.120,5.1s4.060,-5.1 8.120,-5.1s4.060,5.1 8.120,5.1s4.060,-5.1 8.120,-5.1s4.060,5.1 8.120,5.1s4.060,-5.1 8.120,-5.1s4.060,5.1 8.120,5.1s4.060,-5.1 8.120,-5.1s4.060,5.1 8.120,5.1s4.060,-5.1 8.120,-5.1s4.060,5.1 8.120,5.1s4.060,-5.1 8.120,-5.1s4.060,5.1 8.120,5.1s4.060,-5.1 8.120,-5.1s4.060,5.1 8.120,5.1s4.060,-5.1 8.120,-5.1s4.060,5.1 8.120,5.1s4.060,-5.1 8.120,-5.1s4.060,5.1 8.120,5.1s4.060,-5.1 8.120,-5.1s4.060,5.1 8.120,5.1s4.060,-5.1 8.120,-5.1s4.060,5.1 8.120,5.1s4.060,-5.1 8.120,-5.1s4.060,5.1 8.120,5.1s4.060,-5.1 8.120,-5.1s4.060,5.1 8.120,5.1s4.060,-5.1 8.120,-5.1s4.060,5.1 8.120,5.1s4.060,-5.1 8.120,-5.1s4.060,5.1 8.120,5.1s4.060,-5.1 8.120,-5.1s4.060,5.1 8.120,5.1s4.060,-5.1 8.120,-5.1s4.060,5.1 8.120,5.1s4.060,-5.1 8.120,-5.1s4.060,5.1 8.120,5.1s4.060,-5.1 8.120,-5.1s4.060,5.1 8.120,5.1s4.060,-5.1 8.120,-5.1s4.060,5.1 8.120,5.1s4.060,-5.1 8.120,-5.1s4.060,5.1 8.120,5.1s4.060,-5.1 8.120,-5.1s4.060,5.1 8.120,5.1s4.060,-5.1 8.120,-5.1s4.060,5.1 8.120,5.1s4.060,-5.1 8.120,-5.1s4.060,5.1 8.120,5.1s4.060,-5.1 8.120,-5.1s4.060,5.1 8.120,5.1s4.060,-5.1 8.120,-5.1s4.060,5.1 8.120,5.1s4.060,-5.1 8.120,-5.1s4.060,5.1 8.120,5.1s4.060,-5.1 8.120,-5.1s4.060,5.1 8.120,5.1s4.060,-5.1 8.120,-5.1s4.060,5.1 8.120,5.1s4.060,-5.1 8.120,-5.1s4.060,5.1 8.120,5.1s4.060,-5.1 8.120,-5.1s4.060,5.1 8.120,5.1s4.060,-5.1 8.120,-5.1s4.060,5.1 8.120,5.1s4.060,-5.1 8.120,-5.1s4.060,5.1 8.120,5.1s4.060,-5.1 8.120,-5.1s4.060,5.1 8.120,5.1s4.060,-5.1 8.120,-5.1s4.060,5.1 8.120,5.1s4.060,-5.1 8.120,-5.1s4.060,5.1 8.120,5.1s4.060,-5.1 8.120,-5.1s4.060,5.1 8.120,5.1s4.060,-5.1 8.120,-5.1s4.060,5.1 8.120,5.1s4.060,-5.1 8.120,-5.1s4.060,5.1 8.120,5.1s4.060,-5.1 8.120,-5.1s4.060,5.1 8.120,5.1s4.060,-5.1 8.120,-5.1s4.060,5.1 8.120,5.1s4.060,-5.1 8.120,-5.1s4.060,5.1 8.120,5.1s4.060,-5.1 8.120,-5.1s4.060,5.1 8.120,5.1s4.060,-5.1 8.120,-5.1s4.060,5.1 8.120,5.1s4.060,-5.1 8.120,-5.1s4.060,5.1 8.120,5.1s4.060,-5.1 8.120,-5.1s4.060,5.1 8.120,5.1s4.060,-5.1 8.120,-5.1s4.060,5.1 8.120,5.1s4.060,-5.1 8.120,-5.1s4.060,5.1 8.120,5.1s4.060,-5.1 8.120,-5.1s4.060,5.1 8.120,5.1s4.060,-5.1 8.120,-5.1s4.060,5.1 8.120,5.1s4.060,-5.1 8.120,-5.1s4.060,5.1 8.120,5.1s4.060,-5.1 8.120,-5.1s4.060,5.1 8.120,5.1s4.060,-5.1 8.120,-5.1s4.060,5.1 8.120,5.1s4.060,-5.1 8.120,-5.1s4.060,5.1 8.120,5.1s4.060,-5.1 8.120,-5.1s4.060,5.1 8.120,5.1s4.060,-5.1 8.120,-5.1s4.060,5.1 8.120,5.1s4.060,-5.1 8.120,-5.1s4.060,5.1 8.120,5.1s4.060,-5.1 8.120,-5.1s4.060,5.1 8.120,5.1s4.060,-5.1 8.120,-5.1s4.060,5.1 8.120,5.1s4.060,-5.1 8.120,-5.1s4.060,5.1 8.120,5.1s4.060,-5.1 8.120,-5.1 M-0.56,1376.88 c4.060,0 4.060,5.1 8.120,5.1s4.060,-5.1 8.120,-5.1s4.060,5.1 8.120,5.1s4.060,-5.1 8.120,-5.1s4.060,5.1 8.120,5.1s4.060,-5.1 8.120,-5.1s4.060,5.1 8.120,5.1s4.060,-5.1 8.120,-5.1s4.060,5.1 8.120,5.1s4.060,-5.1 8.120,-5.1s4.060,5.1 8.120,5.1s4.060,-5.1 8.120,-5.1s4.060,5.1 8.120,5.1s4.060,-5.1 8.120,-5.1s4.060,5.1 8.120,5.1s4.060,-5.1 8.120,-5.1s4.060,5.1 8.120,5.1s4.060,-5.1 8.120,-5.1s4.060,5.1 8.120,5.1s4.060,-5.1 8.120,-5.1s4.060,5.1 8.120,5.1s4.060,-5.1 8.120,-5.1s4.060,5.1 8.120,5.1s4.060,-5.1 8.120,-5.1s4.060,5.1 8.120,5.1s4.060,-5.1 8.120,-5.1s4.060,5.1 8.120,5.1s4.060,-5.1 8.120,-5.1s4.060,5.1 8.120,5.1s4.060,-5.1 8.120,-5.1s4.060,5.1 8.120,5.1s4.060,-5.1 8.120,-5.1s4.060,5.1 8.120,5.1s4.060,-5.1 8.120,-5.1s4.060,5.1 8.120,5.1s4.060,-5.1 8.120,-5.1s4.060,5.1 8.120,5.1s4.060,-5.1 8.120,-5.1s4.060,5.1 8.120,5.1s4.060,-5.1 8.120,-5.1s4.060,5.1 8.120,5.1s4.060,-5.1 8.120,-5.1s4.060,5.1 8.120,5.1s4.060,-5.1 8.120,-5.1s4.060,5.1 8.120,5.1s4.060,-5.1 8.120,-5.1s4.060,5.1 8.120,5.1s4.060,-5.1 8.120,-5.1s4.060,5.1 8.120,5.1s4.060,-5.1 8.120,-5.1s4.060,5.1 8.120,5.1s4.060,-5.1 8.120,-5.1s4.060,5.1 8.120,5.1s4.060,-5.1 8.120,-5.1s4.060,5.1 8.120,5.1s4.060,-5.1 8.120,-5.1s4.060,5.1 8.120,5.1s4.060,-5.1 8.120,-5.1s4.060,5.1 8.120,5.1s4.060,-5.1 8.120,-5.1s4.060,5.1 8.120,5.1s4.060,-5.1 8.120,-5.1s4.060,5.1 8.120,5.1s4.060,-5.1 8.120,-5.1s4.060,5.1 8.120,5.1s4.060,-5.1 8.120,-5.1s4.060,5.1 8.120,5.1s4.060,-5.1 8.120,-5.1s4.060,5.1 8.120,5.1s4.060,-5.1 8.120,-5.1s4.060,5.1 8.120,5.1s4.060,-5.1 8.120,-5.1s4.060,5.1 8.120,5.1s4.060,-5.1 8.120,-5.1s4.060,5.1 8.120,5.1s4.060,-5.1 8.120,-5.1s4.060,5.1 8.120,5.1s4.060,-5.1 8.120,-5.1s4.060,5.1 8.120,5.1s4.060,-5.1 8.120,-5.1s4.060,5.1 8.120,5.1s4.060,-5.1 8.120,-5.1s4.060,5.1 8.120,5.1s4.060,-5.1 8.120,-5.1s4.060,5.1 8.120,5.1s4.060,-5.1 8.120,-5.1s4.060,5.1 8.120,5.1s4.060,-5.1 8.120,-5.1s4.060,5.1 8.120,5.1s4.060,-5.1 8.120,-5.1s4.060,5.1 8.120,5.1s4.060,-5.1 8.120,-5.1s4.060,5.1 8.120,5.1s4.060,-5.1 8.120,-5.1s4.060,5.1 8.120,5.1s4.060,-5.1 8.120,-5.1s4.060,5.1 8.120,5.1s4.060,-5.1 8.120,-5.1s4.060,5.1 8.120,5.1s4.060,-5.1 8.120,-5.1s4.060,5.1 8.120,5.1s4.060,-5.1 8.120,-5.1s4.060,5.1 8.120,5.1s4.060,-5.1 8.120,-5.1s4.060,5.1 8.120,5.1s4.060,-5.1 8.120,-5.1s4.060,5.1 8.120,5.1s4.060,-5.1 8.120,-5.1s4.060,5.1 8.120,5.1s4.060,-5.1 8.120,-5.1s4.060,5.1 8.120,5.1s4.060,-5.1 8.120,-5.1s4.060,5.1 8.120,5.1s4.060,-5.1 8.120,-5.1s4.060,5.1 8.120,5.1s4.060,-5.1 8.120,-5.1s4.060,5.1 8.120,5.1s4.060,-5.1 8.120,-5.1s4.060,5.1 8.120,5.1s4.060,-5.1 8.120,-5.1s4.060,5.1 8.120,5.1s4.060,-5.1 8.120,-5.1s4.060,5.1 8.120,5.1s4.060,-5.1 8.120,-5.1s4.060,5.1 8.120,5.1s4.060,-5.1 8.120,-5.1s4.060,5.1 8.120,5.1s4.060,-5.1 8.120,-5.1s4.060,5.1 8.120,5.1s4.060,-5.1 8.120,-5.1s4.060,5.1 8.120,5.1s4.060,-5.1 8.120,-5.1s4.060,5.1 8.120,5.1s4.060,-5.1 8.120,-5.1s4.060,5.1 8.120,5.1s4.060,-5.1 8.120,-5.1s4.060,5.1 8.120,5.1s4.060,-5.1 8.120,-5.1s4.060,5.1 8.120,5.1s4.060,-5.1 8.120,-5.1s4.060,5.1 8.120,5.1s4.060,-5.1 8.120,-5.1s4.060,5.1 8.120,5.1s4.060,-5.1 8.120,-5.1s4.060,5.1 8.120,5.1s4.060,-5.1 8.120,-5.1s4.060,5.1 8.120,5.1s4.060,-5.1 8.120,-5.1s4.060,5.1 8.120,5.1s4.060,-5.1 8.120,-5.1s4.060,5.1 8.120,5.1s4.060,-5.1 8.120,-5.1s4.060,5.1 8.120,5.1s4.060,-5.1 8.120,-5.1s4.060,5.1 8.120,5.1s4.060,-5.1 8.120,-5.1s4.060,5.1 8.120,5.1s4.060,-5.1 8.120,-5.1s4.060,5.1 8.120,5.1s4.060,-5.1 8.120,-5.1s4.060,5.1 8.120,5.1s4.060,-5.1 8.120,-5.1s4.060,5.1 8.120,5.1s4.060,-5.1 8.120,-5.1s4.060,5.1 8.120,5.1s4.060,-5.1 8.120,-5.1s4.060,5.1 8.120,5.1s4.060,-5.1 8.120,-5.1s4.060,5.1 8.120,5.1s4.060,-5.1 8.120,-5.1s4.060,5.1 8.120,5.1s4.060,-5.1 8.120,-5.1s4.060,5.1 8.120,5.1s4.060,-5.1 8.120,-5.1s4.060,5.1 8.120,5.1s4.060,-5.1 8.120,-5.1s4.060,5.1 8.120,5.1s4.060,-5.1 8.120,-5.1s4.060,5.1 8.120,5.1 M7.56,1385.77 c4.060,0 4.060,5.1 8.120,5.1s4.060,-5.1 8.120,-5.1s4.060,5.1 8.120,5.1s4.060,-5.1 8.120,-5.1s4.060,5.1 8.120,5.1s4.060,-5.1 8.120,-5.1s4.060,5.1 8.120,5.1s4.060,-5.1 8.120,-5.1s4.060,5.1 8.120,5.1s4.060,-5.1 8.120,-5.1s4.060,5.1 8.120,5.1s4.060,-5.1 8.120,-5.1s4.060,5.1 8.120,5.1s4.060,-5.1 8.120,-5.1s4.060,5.1 8.120,5.1s4.060,-5.1 8.120,-5.1s4.060,5.1 8.120,5.1s4.060,-5.1 8.120,-5.1s4.060,5.1 8.120,5.1s4.060,-5.1 8.120,-5.1s4.060,5.1 8.120,5.1s4.060,-5.1 8.120,-5.1s4.060,5.1 8.120,5.1s4.060,-5.1 8.120,-5.1s4.060,5.1 8.120,5.1s4.060,-5.1 8.120,-5.1s4.060,5.1 8.120,5.1s4.060,-5.1 8.120,-5.1s4.060,5.1 8.120,5.1s4.060,-5.1 8.120,-5.1s4.060,5.1 8.120,5.1s4.060,-5.1 8.120,-5.1s4.060,5.1 8.120,5.1s4.060,-5.1 8.120,-5.1s4.060,5.1 8.120,5.1s4.060,-5.1 8.120,-5.1s4.060,5.1 8.120,5.1s4.060,-5.1 8.120,-5.1s4.060,5.1 8.120,5.1s4.060,-5.1 8.120,-5.1s4.060,5.1 8.120,5.1s4.060,-5.1 8.120,-5.1s4.060,5.1 8.120,5.1s4.060,-5.1 8.120,-5.1s4.060,5.1 8.120,5.1s4.060,-5.1 8.120,-5.1s4.060,5.1 8.120,5.1s4.060,-5.1 8.120,-5.1s4.060,5.1 8.120,5.1s4.060,-5.1 8.120,-5.1s4.060,5.1 8.120,5.1s4.060,-5.1 8.120,-5.1s4.060,5.1 8.120,5.1s4.060,-5.1 8.120,-5.1s4.060,5.1 8.120,5.1s4.060,-5.1 8.120,-5.1s4.060,5.1 8.120,5.1s4.060,-5.1 8.120,-5.1s4.060,5.1 8.120,5.1s4.060,-5.1 8.120,-5.1s4.060,5.1 8.120,5.1s4.060,-5.1 8.120,-5.1s4.060,5.1 8.120,5.1s4.060,-5.1 8.120,-5.1s4.060,5.1 8.120,5.1s4.060,-5.1 8.120,-5.1s4.060,5.1 8.120,5.1s4.060,-5.1 8.120,-5.1s4.060,5.1 8.120,5.1s4.060,-5.1 8.120,-5.1s4.060,5.1 8.120,5.1s4.060,-5.1 8.120,-5.1s4.060,5.1 8.120,5.1s4.060,-5.1 8.120,-5.1s4.060,5.1 8.120,5.1s4.060,-5.1 8.120,-5.1s4.060,5.1 8.120,5.1s4.060,-5.1 8.120,-5.1s4.060,5.1 8.120,5.1s4.060,-5.1 8.120,-5.1s4.060,5.1 8.120,5.1s4.060,-5.1 8.120,-5.1s4.060,5.1 8.120,5.1s4.060,-5.1 8.120,-5.1s4.060,5.1 8.120,5.1s4.060,-5.1 8.120,-5.1s4.060,5.1 8.120,5.1s4.060,-5.1 8.120,-5.1s4.060,5.1 8.120,5.1s4.060,-5.1 8.120,-5.1s4.060,5.1 8.120,5.1s4.060,-5.1 8.120,-5.1s4.060,5.1 8.120,5.1s4.060,-5.1 8.120,-5.1s4.060,5.1 8.120,5.1s4.060,-5.1 8.120,-5.1s4.060,5.1 8.120,5.1s4.060,-5.1 8.120,-5.1s4.060,5.1 8.120,5.1s4.060,-5.1 8.120,-5.1s4.060,5.1 8.120,5.1s4.060,-5.1 8.120,-5.1s4.060,5.1 8.120,5.1s4.060,-5.1 8.120,-5.1s4.060,5.1 8.120,5.1s4.060,-5.1 8.120,-5.1s4.060,5.1 8.120,5.1s4.060,-5.1 8.120,-5.1s4.060,5.1 8.120,5.1s4.060,-5.1 8.120,-5.1s4.060,5.1 8.120,5.1s4.060,-5.1 8.120,-5.1s4.060,5.1 8.120,5.1s4.060,-5.1 8.120,-5.1s4.060,5.1 8.120,5.1s4.060,-5.1 8.120,-5.1s4.060,5.1 8.120,5.1s4.060,-5.1 8.120,-5.1s4.060,5.1 8.120,5.1s4.060,-5.1 8.120,-5.1s4.060,5.1 8.120,5.1s4.060,-5.1 8.120,-5.1s4.060,5.1 8.120,5.1s4.060,-5.1 8.120,-5.1s4.060,5.1 8.120,5.1s4.060,-5.1 8.120,-5.1s4.060,5.1 8.120,5.1s4.060,-5.1 8.120,-5.1s4.060,5.1 8.120,5.1s4.060,-5.1 8.120,-5.1s4.060,5.1 8.120,5.1s4.060,-5.1 8.120,-5.1s4.060,5.1 8.120,5.1s4.060,-5.1 8.120,-5.1s4.060,5.1 8.120,5.1s4.060,-5.1 8.120,-5.1s4.060,5.1 8.120,5.1s4.060,-5.1 8.120,-5.1s4.060,5.1 8.120,5.1s4.060,-5.1 8.120,-5.1s4.060,5.1 8.120,5.1s4.060,-5.1 8.120,-5.1s4.060,5.1 8.120,5.1s4.060,-5.1 8.120,-5.1s4.060,5.1 8.120,5.1s4.060,-5.1 8.120,-5.1s4.060,5.1 8.120,5.1s4.060,-5.1 8.120,-5.1s4.060,5.1 8.120,5.1s4.060,-5.1 8.120,-5.1s4.060,5.1 8.120,5.1s4.060,-5.1 8.120,-5.1s4.060,5.1 8.120,5.1s4.060,-5.1 8.120,-5.1s4.060,5.1 8.120,5.1s4.060,-5.1 8.120,-5.1s4.060,5.1 8.120,5.1s4.060,-5.1 8.120,-5.1s4.060,5.1 8.120,5.1s4.060,-5.1 8.120,-5.1s4.060,5.1 8.120,5.1s4.060,-5.1 8.120,-5.1s4.060,5.1 8.120,5.1s4.060,-5.1 8.120,-5.1s4.060,5.1 8.120,5.1s4.060,-5.1 8.120,-5.1s4.060,5.1 8.120,5.1s4.060,-5.1 8.120,-5.1s4.060,5.1 8.120,5.1s4.060,-5.1 8.120,-5.1s4.060,5.1 8.120,5.1s4.060,-5.1 8.120,-5.1s4.060,5.1 8.120,5.1s4.060,-5.1 8.120,-5.1s4.060,5.1 8.120,5.1s4.060,-5.1 8.120,-5.1s4.060,5.1 8.120,5.1s4.060,-5.1 8.120,-5.1 M-0.56,1394.67 c4.060,0 4.060,5.1 8.120,5.1s4.060,-5.1 8.120,-5.1s4.060,5.1 8.120,5.1s4.060,-5.1 8.120,-5.1s4.060,5.1 8.120,5.1s4.060,-5.1 8.120,-5.1s4.060,5.1 8.120,5.1s4.060,-5.1 8.120,-5.1s4.060,5.1 8.120,5.1s4.060,-5.1 8.120,-5.1s4.060,5.1 8.120,5.1s4.060,-5.1 8.120,-5.1s4.060,5.1 8.120,5.1s4.060,-5.1 8.120,-5.1s4.060,5.1 8.120,5.1s4.060,-5.1 8.120,-5.1s4.060,5.1 8.120,5.1s4.060,-5.1 8.120,-5.1s4.060,5.1 8.120,5.1s4.060,-5.1 8.120,-5.1s4.060,5.1 8.120,5.1s4.060,-5.1 8.120,-5.1s4.060,5.1 8.120,5.1s4.060,-5.1 8.120,-5.1s4.060,5.1 8.120,5.1s4.060,-5.1 8.120,-5.1s4.060,5.1 8.120,5.1s4.060,-5.1 8.120,-5.1s4.060,5.1 8.120,5.1s4.060,-5.1 8.120,-5.1s4.060,5.1 8.120,5.1s4.060,-5.1 8.120,-5.1s4.060,5.1 8.120,5.1s4.060,-5.1 8.120,-5.1s4.060,5.1 8.120,5.1s4.060,-5.1 8.120,-5.1s4.060,5.1 8.120,5.1s4.060,-5.1 8.120,-5.1s4.060,5.1 8.120,5.1s4.060,-5.1 8.120,-5.1s4.060,5.1 8.120,5.1s4.060,-5.1 8.120,-5.1s4.060,5.1 8.120,5.1s4.060,-5.1 8.120,-5.1s4.060,5.1 8.120,5.1s4.060,-5.1 8.120,-5.1s4.060,5.1 8.120,5.1s4.060,-5.1 8.120,-5.1s4.060,5.1 8.120,5.1s4.060,-5.1 8.120,-5.1s4.060,5.1 8.120,5.1s4.060,-5.1 8.120,-5.1s4.060,5.1 8.120,5.1s4.060,-5.1 8.120,-5.1s4.060,5.1 8.120,5.1s4.060,-5.1 8.120,-5.1s4.060,5.1 8.120,5.1s4.060,-5.1 8.120,-5.1s4.060,5.1 8.120,5.1s4.060,-5.1 8.120,-5.1s4.060,5.1 8.120,5.1s4.060,-5.1 8.120,-5.1s4.060,5.1 8.120,5.1s4.060,-5.1 8.120,-5.1s4.060,5.1 8.120,5.1s4.060,-5.1 8.120,-5.1s4.060,5.1 8.120,5.1s4.060,-5.1 8.120,-5.1s4.060,5.1 8.120,5.1s4.060,-5.1 8.120,-5.1s4.060,5.1 8.120,5.1s4.060,-5.1 8.120,-5.1s4.060,5.1 8.120,5.1s4.060,-5.1 8.120,-5.1s4.060,5.1 8.120,5.1s4.060,-5.1 8.120,-5.1s4.060,5.1 8.120,5.1s4.060,-5.1 8.120,-5.1s4.060,5.1 8.120,5.1s4.060,-5.1 8.120,-5.1s4.060,5.1 8.120,5.1s4.060,-5.1 8.120,-5.1s4.060,5.1 8.120,5.1s4.060,-5.1 8.120,-5.1s4.060,5.1 8.120,5.1s4.060,-5.1 8.120,-5.1s4.060,5.1 8.120,5.1s4.060,-5.1 8.120,-5.1s4.060,5.1 8.120,5.1s4.060,-5.1 8.120,-5.1s4.060,5.1 8.120,5.1s4.060,-5.1 8.120,-5.1s4.060,5.1 8.120,5.1s4.060,-5.1 8.120,-5.1s4.060,5.1 8.120,5.1s4.060,-5.1 8.120,-5.1s4.060,5.1 8.120,5.1s4.060,-5.1 8.120,-5.1s4.060,5.1 8.120,5.1s4.060,-5.1 8.120,-5.1s4.060,5.1 8.120,5.1s4.060,-5.1 8.120,-5.1s4.060,5.1 8.120,5.1s4.060,-5.1 8.120,-5.1s4.060,5.1 8.120,5.1s4.060,-5.1 8.120,-5.1s4.060,5.1 8.120,5.1s4.060,-5.1 8.120,-5.1s4.060,5.1 8.120,5.1s4.060,-5.1 8.120,-5.1s4.060,5.1 8.120,5.1s4.060,-5.1 8.120,-5.1s4.060,5.1 8.120,5.1s4.060,-5.1 8.120,-5.1s4.060,5.1 8.120,5.1s4.060,-5.1 8.120,-5.1s4.060,5.1 8.120,5.1s4.060,-5.1 8.120,-5.1s4.060,5.1 8.120,5.1s4.060,-5.1 8.120,-5.1s4.060,5.1 8.120,5.1s4.060,-5.1 8.120,-5.1s4.060,5.1 8.120,5.1s4.060,-5.1 8.120,-5.1s4.060,5.1 8.120,5.1s4.060,-5.1 8.120,-5.1s4.060,5.1 8.120,5.1s4.060,-5.1 8.120,-5.1s4.060,5.1 8.120,5.1s4.060,-5.1 8.120,-5.1s4.060,5.1 8.120,5.1s4.060,-5.1 8.120,-5.1s4.060,5.1 8.120,5.1s4.060,-5.1 8.120,-5.1s4.060,5.1 8.120,5.1s4.060,-5.1 8.120,-5.1s4.060,5.1 8.120,5.1s4.060,-5.1 8.120,-5.1s4.060,5.1 8.120,5.1s4.060,-5.1 8.120,-5.1s4.060,5.1 8.120,5.1s4.060,-5.1 8.120,-5.1s4.060,5.1 8.120,5.1s4.060,-5.1 8.120,-5.1s4.060,5.1 8.120,5.1s4.060,-5.1 8.120,-5.1s4.060,5.1 8.120,5.1s4.060,-5.1 8.120,-5.1s4.060,5.1 8.120,5.1s4.060,-5.1 8.120,-5.1s4.060,5.1 8.120,5.1s4.060,-5.1 8.120,-5.1s4.060,5.1 8.120,5.1s4.060,-5.1 8.120,-5.1s4.060,5.1 8.120,5.1s4.060,-5.1 8.120,-5.1s4.060,5.1 8.120,5.1s4.060,-5.1 8.120,-5.1s4.060,5.1 8.120,5.1s4.060,-5.1 8.120,-5.1s4.060,5.1 8.120,5.1s4.060,-5.1 8.120,-5.1s4.060,5.1 8.120,5.1s4.060,-5.1 8.120,-5.1s4.060,5.1 8.120,5.1s4.060,-5.1 8.120,-5.1s4.060,5.1 8.120,5.1s4.060,-5.1 8.120,-5.1s4.060,5.1 8.120,5.1s4.060,-5.1 8.120,-5.1s4.060,5.1 8.120,5.1s4.060,-5.1 8.120,-5.1s4.060,5.1 8.120,5.1s4.060,-5.1 8.120,-5.1s4.060,5.1 8.120,5.1s4.060,-5.1 8.120,-5.1s4.060,5.1 8.120,5.1s4.060,-5.1 8.120,-5.1s4.060,5.1 8.120,5.1 M7.56,1403.56 c4.060,0 4.060,5.1 8.120,5.1s4.060,-5.1 8.120,-5.1s4.060,5.1 8.120,5.1s4.060,-5.1 8.120,-5.1s4.060,5.1 8.120,5.1s4.060,-5.1 8.120,-5.1s4.060,5.1 8.120,5.1s4.060,-5.1 8.120,-5.1s4.060,5.1 8.120,5.1s4.060,-5.1 8.120,-5.1s4.060,5.1 8.120,5.1s4.060,-5.1 8.120,-5.1s4.060,5.1 8.120,5.1s4.060,-5.1 8.120,-5.1s4.060,5.1 8.120,5.1s4.060,-5.1 8.120,-5.1s4.060,5.1 8.120,5.1s4.060,-5.1 8.120,-5.1s4.060,5.1 8.120,5.1s4.060,-5.1 8.120,-5.1s4.060,5.1 8.120,5.1s4.060,-5.1 8.120,-5.1s4.060,5.1 8.120,5.1s4.060,-5.1 8.120,-5.1s4.060,5.1 8.120,5.1s4.060,-5.1 8.120,-5.1s4.060,5.1 8.120,5.1s4.060,-5.1 8.120,-5.1s4.060,5.1 8.120,5.1s4.060,-5.1 8.120,-5.1s4.060,5.1 8.120,5.1s4.060,-5.1 8.120,-5.1s4.060,5.1 8.120,5.1s4.060,-5.1 8.120,-5.1s4.060,5.1 8.120,5.1s4.060,-5.1 8.120,-5.1s4.060,5.1 8.120,5.1s4.060,-5.1 8.120,-5.1s4.060,5.1 8.120,5.1s4.060,-5.1 8.120,-5.1s4.060,5.1 8.120,5.1s4.060,-5.1 8.120,-5.1s4.060,5.1 8.120,5.1s4.060,-5.1 8.120,-5.1s4.060,5.1 8.120,5.1s4.060,-5.1 8.120,-5.1s4.060,5.1 8.120,5.1s4.060,-5.1 8.120,-5.1s4.060,5.1 8.120,5.1s4.060,-5.1 8.120,-5.1s4.060,5.1 8.120,5.1s4.060,-5.1 8.120,-5.1s4.060,5.1 8.120,5.1s4.060,-5.1 8.120,-5.1s4.060,5.1 8.120,5.1s4.060,-5.1 8.120,-5.1s4.060,5.1 8.120,5.1s4.060,-5.1 8.120,-5.1s4.060,5.1 8.120,5.1s4.060,-5.1 8.120,-5.1s4.060,5.1 8.120,5.1s4.060,-5.1 8.120,-5.1s4.060,5.1 8.120,5.1s4.060,-5.1 8.120,-5.1s4.060,5.1 8.120,5.1s4.060,-5.1 8.120,-5.1s4.060,5.1 8.120,5.1s4.060,-5.1 8.120,-5.1s4.060,5.1 8.120,5.1s4.060,-5.1 8.120,-5.1s4.060,5.1 8.120,5.1s4.060,-5.1 8.120,-5.1s4.060,5.1 8.120,5.1s4.060,-5.1 8.120,-5.1s4.060,5.1 8.120,5.1s4.060,-5.1 8.120,-5.1s4.060,5.1 8.120,5.1s4.060,-5.1 8.120,-5.1s4.060,5.1 8.120,5.1s4.060,-5.1 8.120,-5.1s4.060,5.1 8.120,5.1s4.060,-5.1 8.120,-5.1s4.060,5.1 8.120,5.1s4.060,-5.1 8.120,-5.1s4.060,5.1 8.120,5.1s4.060,-5.1 8.120,-5.1s4.060,5.1 8.120,5.1s4.060,-5.1 8.120,-5.1s4.060,5.1 8.120,5.1s4.060,-5.1 8.120,-5.1s4.060,5.1 8.120,5.1s4.060,-5.1 8.120,-5.1s4.060,5.1 8.120,5.1s4.060,-5.1 8.120,-5.1s4.060,5.1 8.120,5.1s4.060,-5.1 8.120,-5.1s4.060,5.1 8.120,5.1s4.060,-5.1 8.120,-5.1s4.060,5.1 8.120,5.1s4.060,-5.1 8.120,-5.1s4.060,5.1 8.120,5.1s4.060,-5.1 8.120,-5.1s4.060,5.1 8.120,5.1s4.060,-5.1 8.120,-5.1s4.060,5.1 8.120,5.1s4.060,-5.1 8.120,-5.1s4.060,5.1 8.120,5.1s4.060,-5.1 8.120,-5.1s4.060,5.1 8.120,5.1s4.060,-5.1 8.120,-5.1s4.060,5.1 8.120,5.1s4.060,-5.1 8.120,-5.1s4.060,5.1 8.120,5.1s4.060,-5.1 8.120,-5.1s4.060,5.1 8.120,5.1s4.060,-5.1 8.120,-5.1s4.060,5.1 8.120,5.1s4.060,-5.1 8.120,-5.1s4.060,5.1 8.120,5.1s4.060,-5.1 8.120,-5.1s4.060,5.1 8.120,5.1s4.060,-5.1 8.120,-5.1s4.060,5.1 8.120,5.1s4.060,-5.1 8.120,-5.1s4.060,5.1 8.120,5.1s4.060,-5.1 8.120,-5.1s4.060,5.1 8.120,5.1s4.060,-5.1 8.120,-5.1s4.060,5.1 8.120,5.1s4.060,-5.1 8.120,-5.1s4.060,5.1 8.120,5.1s4.060,-5.1 8.120,-5.1s4.060,5.1 8.120,5.1s4.060,-5.1 8.120,-5.1s4.060,5.1 8.120,5.1s4.060,-5.1 8.120,-5.1s4.060,5.1 8.120,5.1s4.060,-5.1 8.120,-5.1s4.060,5.1 8.120,5.1s4.060,-5.1 8.120,-5.1s4.060,5.1 8.120,5.1s4.060,-5.1 8.120,-5.1s4.060,5.1 8.120,5.1s4.060,-5.1 8.120,-5.1s4.060,5.1 8.120,5.1s4.060,-5.1 8.120,-5.1s4.060,5.1 8.120,5.1s4.060,-5.1 8.120,-5.1s4.060,5.1 8.120,5.1s4.060,-5.1 8.120,-5.1s4.060,5.1 8.120,5.1s4.060,-5.1 8.120,-5.1s4.060,5.1 8.120,5.1s4.060,-5.1 8.120,-5.1s4.060,5.1 8.120,5.1s4.060,-5.1 8.120,-5.1s4.060,5.1 8.120,5.1s4.060,-5.1 8.120,-5.1s4.060,5.1 8.120,5.1s4.060,-5.1 8.120,-5.1s4.060,5.1 8.120,5.1s4.060,-5.1 8.120,-5.1s4.060,5.1 8.120,5.1s4.060,-5.1 8.120,-5.1s4.060,5.1 8.120,5.1s4.060,-5.1 8.120,-5.1s4.060,5.1 8.120,5.1s4.060,-5.1 8.120,-5.1s4.060,5.1 8.120,5.1s4.060,-5.1 8.120,-5.1s4.060,5.1 8.120,5.1s4.060,-5.1 8.120,-5.1s4.060,5.1 8.120,5.1s4.060,-5.1 8.120,-5.1s4.060,5.1 8.120,5.1s4.060,-5.1 8.120,-5.1s4.060,5.1 8.120,5.1s4.060,-5.1 8.120,-5.1 M-0.56,1412.46 c4.060,0 4.060,5.1 8.120,5.1s4.060,-5.1 8.120,-5.1s4.060,5.1 8.120,5.1s4.060,-5.1 8.120,-5.1s4.060,5.1 8.120,5.1s4.060,-5.1 8.120,-5.1s4.060,5.1 8.120,5.1s4.060,-5.1 8.120,-5.1s4.060,5.1 8.120,5.1s4.060,-5.1 8.120,-5.1s4.060,5.1 8.120,5.1s4.060,-5.1 8.120,-5.1s4.060,5.1 8.120,5.1s4.060,-5.1 8.120,-5.1s4.060,5.1 8.120,5.1s4.060,-5.1 8.120,-5.1s4.060,5.1 8.120,5.1s4.060,-5.1 8.120,-5.1s4.060,5.1 8.120,5.1s4.060,-5.1 8.120,-5.1s4.060,5.1 8.120,5.1s4.060,-5.1 8.120,-5.1s4.060,5.1 8.120,5.1s4.060,-5.1 8.120,-5.1s4.060,5.1 8.120,5.1s4.060,-5.1 8.120,-5.1s4.060,5.1 8.120,5.1s4.060,-5.1 8.120,-5.1s4.060,5.1 8.120,5.1s4.060,-5.1 8.120,-5.1s4.060,5.1 8.120,5.1s4.060,-5.1 8.120,-5.1s4.060,5.1 8.120,5.1s4.060,-5.1 8.120,-5.1s4.060,5.1 8.120,5.1s4.060,-5.1 8.120,-5.1s4.060,5.1 8.120,5.1s4.060,-5.1 8.120,-5.1s4.060,5.1 8.120,5.1s4.060,-5.1 8.120,-5.1s4.060,5.1 8.120,5.1s4.060,-5.1 8.120,-5.1s4.060,5.1 8.120,5.1s4.060,-5.1 8.120,-5.1s4.060,5.1 8.120,5.1s4.060,-5.1 8.120,-5.1s4.060,5.1 8.120,5.1s4.060,-5.1 8.120,-5.1s4.060,5.1 8.120,5.1s4.060,-5.1 8.120,-5.1s4.060,5.1 8.120,5.1s4.060,-5.1 8.120,-5.1s4.060,5.1 8.120,5.1s4.060,-5.1 8.120,-5.1s4.060,5.1 8.120,5.1s4.060,-5.1 8.120,-5.1s4.060,5.1 8.120,5.1s4.060,-5.1 8.120,-5.1s4.060,5.1 8.120,5.1s4.060,-5.1 8.120,-5.1s4.060,5.1 8.120,5.1s4.060,-5.1 8.120,-5.1s4.060,5.1 8.120,5.1s4.060,-5.1 8.120,-5.1s4.060,5.1 8.120,5.1s4.060,-5.1 8.120,-5.1s4.060,5.1 8.120,5.1s4.060,-5.1 8.120,-5.1s4.060,5.1 8.120,5.1s4.060,-5.1 8.120,-5.1s4.060,5.1 8.120,5.1s4.060,-5.1 8.120,-5.1s4.060,5.1 8.120,5.1s4.060,-5.1 8.120,-5.1s4.060,5.1 8.120,5.1s4.060,-5.1 8.120,-5.1s4.060,5.1 8.120,5.1s4.060,-5.1 8.120,-5.1s4.060,5.1 8.120,5.1s4.060,-5.1 8.120,-5.1s4.060,5.1 8.120,5.1s4.060,-5.1 8.120,-5.1s4.060,5.1 8.120,5.1s4.060,-5.1 8.120,-5.1s4.060,5.1 8.120,5.1s4.060,-5.1 8.120,-5.1s4.060,5.1 8.120,5.1s4.060,-5.1 8.120,-5.1s4.060,5.1 8.120,5.1s4.060,-5.1 8.120,-5.1s4.060,5.1 8.120,5.1s4.060,-5.1 8.120,-5.1s4.060,5.1 8.120,5.1s4.060,-5.1 8.120,-5.1s4.060,5.1 8.120,5.1s4.060,-5.1 8.120,-5.1s4.060,5.1 8.120,5.1s4.060,-5.1 8.120,-5.1s4.060,5.1 8.120,5.1s4.060,-5.1 8.120,-5.1s4.060,5.1 8.120,5.1s4.060,-5.1 8.120,-5.1s4.060,5.1 8.120,5.1s4.060,-5.1 8.120,-5.1s4.060,5.1 8.120,5.1s4.060,-5.1 8.120,-5.1s4.060,5.1 8.120,5.1s4.060,-5.1 8.120,-5.1s4.060,5.1 8.120,5.1s4.060,-5.1 8.120,-5.1s4.060,5.1 8.120,5.1s4.060,-5.1 8.120,-5.1s4.060,5.1 8.120,5.1s4.060,-5.1 8.120,-5.1s4.060,5.1 8.120,5.1s4.060,-5.1 8.120,-5.1s4.060,5.1 8.120,5.1s4.060,-5.1 8.120,-5.1s4.060,5.1 8.120,5.1s4.060,-5.1 8.120,-5.1s4.060,5.1 8.120,5.1s4.060,-5.1 8.120,-5.1s4.060,5.1 8.120,5.1s4.060,-5.1 8.120,-5.1s4.060,5.1 8.120,5.1s4.060,-5.1 8.120,-5.1s4.060,5.1 8.120,5.1s4.060,-5.1 8.120,-5.1s4.060,5.1 8.120,5.1s4.060,-5.1 8.120,-5.1s4.060,5.1 8.120,5.1s4.060,-5.1 8.120,-5.1s4.060,5.1 8.120,5.1s4.060,-5.1 8.120,-5.1s4.060,5.1 8.120,5.1s4.060,-5.1 8.120,-5.1s4.060,5.1 8.120,5.1s4.060,-5.1 8.120,-5.1s4.060,5.1 8.120,5.1s4.060,-5.1 8.120,-5.1s4.060,5.1 8.120,5.1s4.060,-5.1 8.120,-5.1s4.060,5.1 8.120,5.1s4.060,-5.1 8.120,-5.1s4.060,5.1 8.120,5.1s4.060,-5.1 8.120,-5.1s4.060,5.1 8.120,5.1s4.060,-5.1 8.120,-5.1s4.060,5.1 8.120,5.1s4.060,-5.1 8.120,-5.1s4.060,5.1 8.120,5.1s4.060,-5.1 8.120,-5.1s4.060,5.1 8.120,5.1s4.060,-5.1 8.120,-5.1s4.060,5.1 8.120,5.1s4.060,-5.1 8.120,-5.1s4.060,5.1 8.120,5.1s4.060,-5.1 8.120,-5.1s4.060,5.1 8.120,5.1s4.060,-5.1 8.120,-5.1s4.060,5.1 8.120,5.1s4.060,-5.1 8.120,-5.1s4.060,5.1 8.120,5.1s4.060,-5.1 8.120,-5.1s4.060,5.1 8.120,5.1s4.060,-5.1 8.120,-5.1s4.060,5.1 8.120,5.1s4.060,-5.1 8.120,-5.1s4.060,5.1 8.120,5.1s4.060,-5.1 8.120,-5.1s4.060,5.1 8.120,5.1s4.060,-5.1 8.120,-5.1s4.060,5.1 8.120,5.1s4.060,-5.1 8.120,-5.1s4.060,5.1 8.120,5.1s4.060,-5.1 8.120,-5.1s4.060,5.1 8.120,5.1s4.060,-5.1 8.120,-5.1s4.060,5.1 8.120,5.1 M7.56,1421.35 c4.060,0 4.060,5.1 8.120,5.1s4.060,-5.1 8.120,-5.1s4.060,5.1 8.120,5.1s4.060,-5.1 8.120,-5.1s4.060,5.1 8.120,5.1s4.060,-5.1 8.120,-5.1s4.060,5.1 8.120,5.1s4.060,-5.1 8.120,-5.1s4.060,5.1 8.120,5.1s4.060,-5.1 8.120,-5.1s4.060,5.1 8.120,5.1s4.060,-5.1 8.120,-5.1s4.060,5.1 8.120,5.1s4.060,-5.1 8.120,-5.1s4.060,5.1 8.120,5.1s4.060,-5.1 8.120,-5.1s4.060,5.1 8.120,5.1s4.060,-5.1 8.120,-5.1s4.060,5.1 8.120,5.1s4.060,-5.1 8.120,-5.1s4.060,5.1 8.120,5.1s4.060,-5.1 8.120,-5.1s4.060,5.1 8.120,5.1s4.060,-5.1 8.120,-5.1s4.060,5.1 8.120,5.1s4.060,-5.1 8.120,-5.1s4.060,5.1 8.120,5.1s4.060,-5.1 8.120,-5.1s4.060,5.1 8.120,5.1s4.060,-5.1 8.120,-5.1s4.060,5.1 8.120,5.1s4.060,-5.1 8.120,-5.1s4.060,5.1 8.120,5.1s4.060,-5.1 8.120,-5.1s4.060,5.1 8.120,5.1s4.060,-5.1 8.120,-5.1s4.060,5.1 8.120,5.1s4.060,-5.1 8.120,-5.1s4.060,5.1 8.120,5.1s4.060,-5.1 8.120,-5.1s4.060,5.1 8.120,5.1s4.060,-5.1 8.120,-5.1s4.060,5.1 8.120,5.1s4.060,-5.1 8.120,-5.1s4.060,5.1 8.120,5.1s4.060,-5.1 8.120,-5.1s4.060,5.1 8.120,5.1s4.060,-5.1 8.120,-5.1s4.060,5.1 8.120,5.1s4.060,-5.1 8.120,-5.1s4.060,5.1 8.120,5.1s4.060,-5.1 8.120,-5.1s4.060,5.1 8.120,5.1s4.060,-5.1 8.120,-5.1s4.060,5.1 8.120,5.1s4.060,-5.1 8.120,-5.1s4.060,5.1 8.120,5.1s4.060,-5.1 8.120,-5.1s4.060,5.1 8.120,5.1s4.060,-5.1 8.120,-5.1s4.060,5.1 8.120,5.1s4.060,-5.1 8.120,-5.1s4.060,5.1 8.120,5.1s4.060,-5.1 8.120,-5.1s4.060,5.1 8.120,5.1s4.060,-5.1 8.120,-5.1s4.060,5.1 8.120,5.1s4.060,-5.1 8.120,-5.1s4.060,5.1 8.120,5.1s4.060,-5.1 8.120,-5.1s4.060,5.1 8.120,5.1s4.060,-5.1 8.120,-5.1s4.060,5.1 8.120,5.1s4.060,-5.1 8.120,-5.1s4.060,5.1 8.120,5.1s4.060,-5.1 8.120,-5.1s4.060,5.1 8.120,5.1s4.060,-5.1 8.120,-5.1s4.060,5.1 8.120,5.1s4.060,-5.1 8.120,-5.1s4.060,5.1 8.120,5.1s4.060,-5.1 8.120,-5.1s4.060,5.1 8.120,5.1s4.060,-5.1 8.120,-5.1s4.060,5.1 8.120,5.1s4.060,-5.1 8.120,-5.1s4.060,5.1 8.120,5.1s4.060,-5.1 8.120,-5.1s4.060,5.1 8.120,5.1s4.060,-5.1 8.120,-5.1s4.060,5.1 8.120,5.1s4.060,-5.1 8.120,-5.1s4.060,5.1 8.120,5.1s4.060,-5.1 8.120,-5.1s4.060,5.1 8.120,5.1s4.060,-5.1 8.120,-5.1s4.060,5.1 8.120,5.1s4.060,-5.1 8.120,-5.1s4.060,5.1 8.120,5.1s4.060,-5.1 8.120,-5.1s4.060,5.1 8.120,5.1s4.060,-5.1 8.120,-5.1s4.060,5.1 8.120,5.1s4.060,-5.1 8.120,-5.1s4.060,5.1 8.120,5.1s4.060,-5.1 8.120,-5.1s4.060,5.1 8.120,5.1s4.060,-5.1 8.120,-5.1s4.060,5.1 8.120,5.1s4.060,-5.1 8.120,-5.1s4.060,5.1 8.120,5.1s4.060,-5.1 8.120,-5.1s4.060,5.1 8.120,5.1s4.060,-5.1 8.120,-5.1s4.060,5.1 8.120,5.1s4.060,-5.1 8.120,-5.1s4.060,5.1 8.120,5.1s4.060,-5.1 8.120,-5.1s4.060,5.1 8.120,5.1s4.060,-5.1 8.120,-5.1s4.060,5.1 8.120,5.1s4.060,-5.1 8.120,-5.1s4.060,5.1 8.120,5.1s4.060,-5.1 8.120,-5.1s4.060,5.1 8.120,5.1s4.060,-5.1 8.120,-5.1s4.060,5.1 8.120,5.1s4.060,-5.1 8.120,-5.1s4.060,5.1 8.120,5.1s4.060,-5.1 8.120,-5.1s4.060,5.1 8.120,5.1s4.060,-5.1 8.120,-5.1s4.060,5.1 8.120,5.1s4.060,-5.1 8.120,-5.1s4.060,5.1 8.120,5.1s4.060,-5.1 8.120,-5.1s4.060,5.1 8.120,5.1s4.060,-5.1 8.120,-5.1s4.060,5.1 8.120,5.1s4.060,-5.1 8.120,-5.1s4.060,5.1 8.120,5.1s4.060,-5.1 8.120,-5.1s4.060,5.1 8.120,5.1s4.060,-5.1 8.120,-5.1s4.060,5.1 8.120,5.1s4.060,-5.1 8.120,-5.1s4.060,5.1 8.120,5.1s4.060,-5.1 8.120,-5.1s4.060,5.1 8.120,5.1s4.060,-5.1 8.120,-5.1s4.060,5.1 8.120,5.1s4.060,-5.1 8.120,-5.1s4.060,5.1 8.120,5.1s4.060,-5.1 8.120,-5.1s4.060,5.1 8.120,5.1s4.060,-5.1 8.120,-5.1s4.060,5.1 8.120,5.1s4.060,-5.1 8.120,-5.1s4.060,5.1 8.120,5.1s4.060,-5.1 8.120,-5.1s4.060,5.1 8.120,5.1s4.060,-5.1 8.120,-5.1s4.060,5.1 8.120,5.1s4.060,-5.1 8.120,-5.1s4.060,5.1 8.120,5.1s4.060,-5.1 8.120,-5.1s4.060,5.1 8.120,5.1s4.060,-5.1 8.120,-5.1s4.060,5.1 8.120,5.1s4.060,-5.1 8.120,-5.1s4.060,5.1 8.120,5.1s4.060,-5.1 8.120,-5.1s4.060,5.1 8.120,5.1s4.060,-5.1 8.120,-5.1s4.060,5.1 8.120,5.1s4.060,-5.1 8.120,-5.1s4.060,5.1 8.120,5.1s4.060,-5.1 8.120,-5.1" fill="none" stroke="#233140" stroke-width="1.8" clip-path="url(#patClip)"/>
</svg></body></html>
